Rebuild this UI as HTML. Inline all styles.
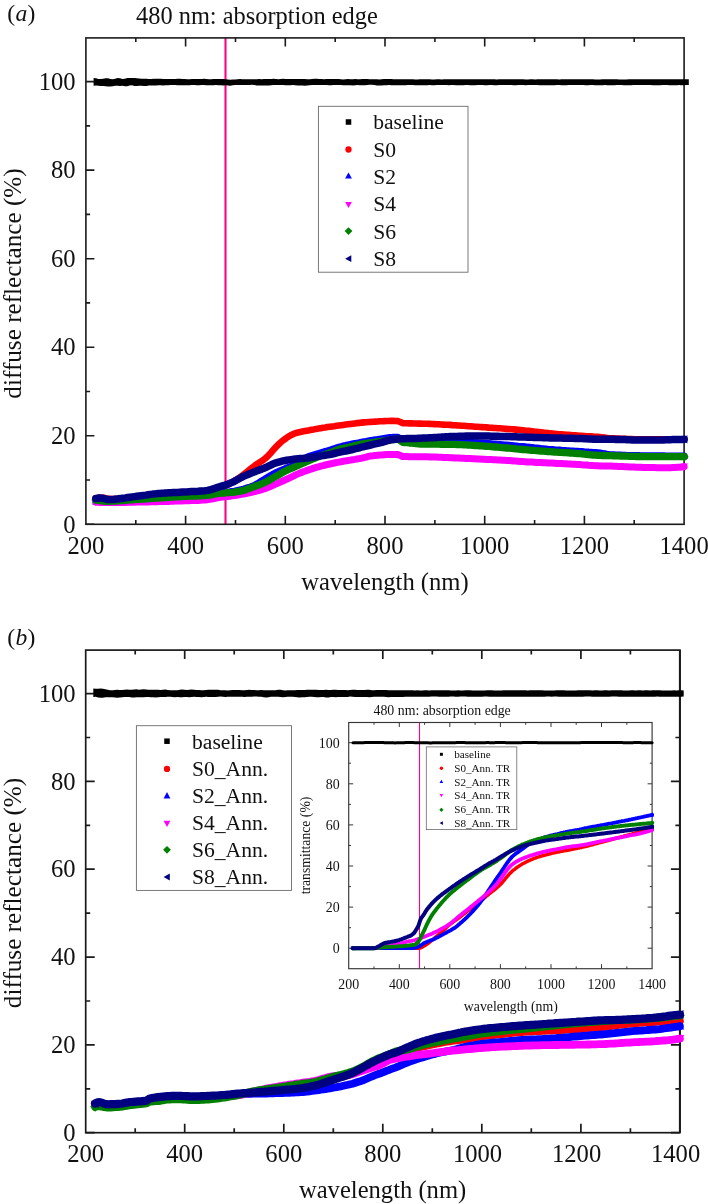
<!DOCTYPE html>
<html lang="en"><head><meta charset="utf-8"><title>Diffuse reflectance and transmittance spectra</title>
<style>html,body{margin:0;padding:0;background:#fff}svg{display:block;will-change:transform}</style></head>
<body>
<svg width="708" height="1204" viewBox="0 0 708 1204" font-family="'Liberation Serif', serif" fill="#111">
<rect width="708" height="1204" fill="#fff"/>
<text x="7.2" y="20.8" font-size="23.6" letter-spacing="0.35">(<tspan font-style="italic">a</tspan>)</text>
<text x="136" y="23.5" font-size="24.4" text-anchor="start" >480 nm: absorption edge</text>
<line x1="225.5" x2="225.5" y1="37.9" y2="524.3" stroke="#ff0080" stroke-width="2.1"/>
<rect x="85.9" y="37.9" width="598.2" height="486.4" fill="none" stroke="#1a1a1a" stroke-width="1.6"/>
<path d="M135.8,524.3v-4.2M135.8,37.9v4.2M185.6,524.3v-8.5M185.6,37.9v8.5M235.5,524.3v-4.2M235.5,37.9v4.2M285.3,524.3v-8.5M285.3,37.9v8.5M335.2,524.3v-4.2M335.2,37.9v4.2M385.0,524.3v-8.5M385.0,37.9v8.5M434.9,524.3v-4.2M434.9,37.9v4.2M484.7,524.3v-8.5M484.7,37.9v8.5M534.6,524.3v-4.2M534.6,37.9v4.2M584.4,524.3v-8.5M584.4,37.9v8.5M634.2,524.3v-4.2M634.2,37.9v4.2M85.9,524.3h8.5M85.9,480.0h4.2M85.9,435.8h8.5M85.9,391.5h4.2M85.9,347.2h8.5M85.9,302.9h4.2M85.9,258.7h8.5M85.9,214.4h4.2M85.9,170.1h8.5M85.9,125.9h4.2M85.9,81.6h8.5" stroke="#1a1a1a" stroke-width="1.6" fill="none"/>
<path d="M93.6,77.98 L96.0,78.36 L98.4,78.89 L100.8,79.07 L103.2,78.73 L105.6,78.30 L108.0,78.37 L110.4,78.99 L112.8,79.32 L115.2,78.76 L117.6,78.07 L120.0,78.34 L122.4,79.01 L124.8,78.65 L127.2,78.04 L129.6,78.09 L132.0,78.09 L134.4,78.11 L136.8,78.25 L139.2,78.46 L141.6,78.78 L144.0,78.74 L146.4,78.67 L148.8,79.03 L151.2,78.93 L153.6,78.72 L156.0,78.73 L158.4,78.83 L160.8,78.86 L163.2,78.89 L165.6,79.05 L168.0,79.12 L170.4,79.01 L172.8,78.93 L175.2,78.92 L177.6,78.84 L180.0,78.86 L182.4,78.99 L184.8,79.08 L187.2,79.31 L189.6,79.20 L192.0,78.91 L194.4,78.95 L196.8,79.00 L199.2,79.07 L201.6,79.00 L204.0,78.82 L206.4,78.93 L208.8,79.17 L211.2,79.19 L213.6,79.10 L216.0,79.09 L218.4,79.01 L220.8,78.94 L223.2,79.10 L225.6,79.36 L228.0,79.55 L230.4,79.64 L232.8,79.51 L235.2,79.40 L237.6,79.30 L240.0,79.11 L242.4,79.20 L244.8,79.33 L247.2,79.21 L249.6,79.15 L252.0,79.21 L254.4,79.22 L256.8,79.13 L259.2,79.12 L261.6,79.18 L264.0,79.12 L266.4,79.09 L268.8,79.12 L271.2,78.92 L273.6,78.75 L276.0,78.93 L278.4,79.17 L280.8,79.09 L283.2,78.87 L285.6,78.92 L288.0,79.04 L290.4,78.91 L292.8,78.91 L295.2,79.05 L297.6,78.98 L300.0,79.00 L302.4,79.09 L304.8,79.07 L307.2,79.21 L309.6,79.32 L312.0,79.07 L314.4,78.76 L316.8,78.74 L319.2,78.94 L321.6,79.10 L324.0,79.13 L326.4,79.06 L328.8,78.98 L331.2,78.95 L333.6,79.02 L336.0,79.10 L338.4,79.11 L340.8,79.29 L343.2,79.50 L345.6,79.25 L348.0,79.07 L350.4,79.33 L352.8,79.27 L355.2,79.10 L357.6,79.22 L360.0,79.18 L362.4,79.00 L364.8,78.92 L367.2,78.94 L369.6,79.16 L372.0,79.30 L374.4,79.22 L376.8,79.34 L379.2,79.39 L381.6,79.13 L384.0,79.07 L386.4,79.05 L388.8,78.90 L391.2,78.93 L393.6,79.15 L396.0,79.23 L398.4,79.17 L400.8,79.24 L403.2,79.29 L405.6,79.31 L408.0,79.33 L410.4,79.33 L412.8,79.37 L415.2,79.41 L417.6,79.38 L420.0,79.34 L422.4,79.32 L424.8,79.26 L427.2,79.28 L429.6,79.35 L432.0,79.39 L434.4,79.39 L436.8,79.30 L439.2,79.28 L441.6,79.38 L444.0,79.37 L446.4,79.31 L448.8,79.34 L451.2,79.29 L453.6,79.20 L456.0,79.22 L458.4,79.30 L460.8,79.35 L463.2,79.29 L465.6,79.26 L468.0,79.27 L470.4,79.25 L472.8,79.25 L475.2,79.31 L477.6,79.37 L480.0,79.33 L482.4,79.24 L484.8,79.23 L487.2,79.26 L489.6,79.25 L492.0,79.21 L494.4,79.25 L496.8,79.38 L499.2,79.37 L501.6,79.30 L504.0,79.35 L506.4,79.33 L508.8,79.20 L511.2,79.21 L513.6,79.28 L516.0,79.32 L518.4,79.30 L520.8,79.28 L523.2,79.34 L525.6,79.44 L528.0,79.44 L530.4,79.30 L532.8,79.31 L535.2,79.38 L537.6,79.30 L540.0,79.25 L542.4,79.30 L544.8,79.35 L547.2,79.37 L549.6,79.32 L552.0,79.28 L554.4,79.31 L556.8,79.37 L559.2,79.40 L561.6,79.31 L564.0,79.21 L566.4,79.25 L568.8,79.33 L571.2,79.26 L573.6,79.17 L576.0,79.22 L578.4,79.31 L580.8,79.33 L583.2,79.30 L585.6,79.33 L588.0,79.34 L590.4,79.28 L592.8,79.32 L595.2,79.42 L597.6,79.45 L600.0,79.39 L602.4,79.36 L604.8,79.36 L607.2,79.32 L609.6,79.27 L612.0,79.26 L614.4,79.28 L616.8,79.36 L619.2,79.43 L621.6,79.39 L624.0,79.39 L626.4,79.39 L628.8,79.35 L631.2,79.30 L633.6,79.23 L636.0,79.27 L638.4,79.29 L640.8,79.18 L643.2,79.21 L645.6,79.32 L648.0,79.29 L650.4,79.23 L652.8,79.24 L655.2,79.28 L657.6,79.33 L660.0,79.33 L662.4,79.28 L664.8,79.26 L667.2,79.31 L669.6,79.37 L672.0,79.36 L674.4,79.34 L676.8,79.28 L679.2,79.22 L681.6,79.25 L684.0,79.32 L686.4,79.30 L688.8,79.22 L688.8,85.03 L686.4,85.04 L684.0,85.13 L681.6,85.13 L679.2,85.10 L676.8,85.14 L674.4,85.20 L672.0,85.24 L669.6,85.21 L667.2,85.11 L664.8,85.00 L662.4,85.02 L660.0,85.14 L657.6,85.16 L655.2,85.15 L652.8,85.13 L650.4,85.11 L648.0,85.11 L645.6,85.08 L643.2,85.07 L640.8,85.08 L638.4,85.07 L636.0,85.08 L633.6,85.10 L631.2,85.13 L628.8,85.16 L626.4,85.19 L624.0,85.17 L621.6,85.06 L619.2,85.01 L616.8,85.09 L614.4,85.15 L612.0,85.19 L609.6,85.21 L607.2,85.16 L604.8,85.12 L602.4,85.16 L600.0,85.18 L597.6,85.15 L595.2,85.13 L592.8,85.07 L590.4,85.08 L588.0,85.16 L585.6,85.13 L583.2,85.06 L580.8,85.07 L578.4,85.08 L576.0,85.06 L573.6,85.06 L571.2,85.07 L568.8,85.11 L566.4,85.14 L564.0,85.16 L561.6,85.15 L559.2,85.06 L556.8,85.06 L554.4,85.15 L552.0,85.22 L549.6,85.22 L547.2,85.17 L544.8,85.16 L542.4,85.16 L540.0,85.13 L537.6,85.11 L535.2,85.10 L532.8,85.12 L530.4,85.09 L528.0,85.06 L525.6,85.13 L523.2,85.10 L520.8,85.05 L518.4,85.10 L516.0,85.16 L513.6,85.13 L511.2,85.05 L508.8,85.06 L506.4,85.07 L504.0,85.04 L501.6,85.04 L499.2,85.12 L496.8,85.18 L494.4,85.17 L492.0,85.10 L489.6,85.11 L487.2,85.19 L484.8,85.18 L482.4,85.11 L480.0,85.08 L477.6,85.12 L475.2,85.17 L472.8,85.18 L470.4,85.15 L468.0,85.10 L465.6,85.09 L463.2,85.13 L460.8,85.16 L458.4,85.20 L456.0,85.17 L453.6,85.06 L451.2,85.08 L448.8,85.14 L446.4,85.09 L444.0,85.07 L441.6,85.07 L439.2,85.06 L436.8,85.10 L434.4,85.17 L432.0,85.13 L429.6,85.08 L427.2,85.13 L424.8,85.17 L422.4,85.19 L420.0,85.17 L417.6,85.15 L415.2,85.16 L412.8,85.11 L410.4,85.06 L408.0,85.08 L405.6,85.13 L403.2,85.20 L400.8,85.21 L398.4,85.27 L396.0,85.24 L393.6,85.22 L391.2,85.19 L388.8,85.07 L386.4,85.14 L384.0,85.34 L381.6,85.49 L379.2,85.56 L376.8,85.44 L374.4,85.11 L372.0,84.65 L369.6,84.63 L367.2,85.03 L364.8,85.25 L362.4,85.25 L360.0,85.13 L357.6,85.12 L355.2,85.30 L352.8,85.39 L350.4,85.32 L348.0,85.21 L345.6,85.17 L343.2,85.15 L340.8,85.11 L338.4,85.06 L336.0,85.00 L333.6,85.06 L331.2,85.20 L328.8,85.15 L326.4,84.90 L324.0,84.88 L321.6,84.95 L319.2,84.93 L316.8,85.04 L314.4,85.07 L312.0,85.07 L309.6,85.36 L307.2,85.61 L304.8,85.63 L302.4,85.54 L300.0,85.50 L297.6,85.54 L295.2,85.27 L292.8,85.09 L290.4,85.26 L288.0,85.26 L285.6,85.16 L283.2,85.08 L280.8,85.02 L278.4,85.07 L276.0,85.08 L273.6,85.05 L271.2,85.21 L268.8,85.48 L266.4,85.61 L264.0,85.51 L261.6,85.45 L259.2,85.62 L256.8,85.55 L254.4,84.99 L252.0,84.77 L249.6,85.02 L247.2,85.02 L244.8,84.98 L242.4,84.98 L240.0,84.89 L237.6,84.88 L235.2,84.97 L232.8,85.29 L230.4,85.64 L228.0,85.55 L225.6,85.37 L223.2,85.41 L220.8,85.34 L218.4,85.13 L216.0,85.08 L213.6,85.28 L211.2,85.35 L208.8,85.26 L206.4,85.21 L204.0,85.05 L201.6,85.09 L199.2,85.33 L196.8,85.27 L194.4,85.05 L192.0,84.98 L189.6,85.13 L187.2,85.25 L184.8,85.17 L182.4,85.16 L180.0,85.18 L177.6,85.22 L175.2,85.12 L172.8,84.92 L170.4,85.08 L168.0,85.27 L165.6,85.35 L163.2,85.40 L160.8,85.23 L158.4,85.23 L156.0,85.38 L153.6,85.44 L151.2,85.45 L148.8,85.57 L146.4,86.11 L144.0,86.11 L141.6,85.64 L139.2,85.73 L136.8,86.08 L134.4,85.91 L132.0,85.27 L129.6,85.43 L127.2,86.15 L124.8,86.13 L122.4,85.87 L120.0,85.90 L117.6,85.81 L115.2,85.81 L112.8,86.24 L110.4,86.54 L108.0,86.50 L105.6,86.33 L103.2,86.11 L100.8,85.89 L98.4,85.68 L96.0,85.57 L93.6,85.65Z" fill="#000"/>
<path d="M95.9,498.2 L98.1,497.9 L100.4,497.8 L102.7,497.8 L105.0,498.1 L107.2,498.6 L109.5,499.0 L111.8,499.1 L114.0,499.0 L116.3,499.0 L118.6,498.9 L120.9,498.8 L123.1,498.6 L125.4,498.5 L127.7,498.3 L129.9,498.1 L132.2,498.0 L134.5,497.8 L136.8,497.7 L139.0,497.5 L141.3,497.4 L143.6,497.2 L145.8,497.0 L148.1,496.8 L150.4,496.6 L152.6,496.4 L154.9,496.3 L157.2,496.0 L159.5,495.8 L161.7,495.6 L164.0,495.4 L166.3,495.2 L168.5,495.0 L170.8,494.8 L173.1,494.5 L175.4,494.3 L177.6,494.1 L179.9,493.9 L182.2,493.6 L184.4,493.4 L186.7,493.2 L189.0,493.0 L191.3,492.8 L193.5,492.6 L195.8,492.4 L198.1,492.2 L200.3,492.0 L202.6,491.7 L204.9,491.5 L207.2,491.2 L209.4,490.8 L211.7,490.4 L214.0,489.9 L216.2,489.2 L218.5,488.5 L220.8,487.7 L223.1,486.8 L225.3,485.8 L227.6,484.7 L229.9,483.5 L232.1,482.3 L234.4,480.9 L236.7,479.5 L239.0,477.9 L241.2,476.3 L243.5,474.6 L245.8,472.8 L248.0,471.0 L250.3,469.1 L252.6,467.3 L254.9,465.6 L257.1,464.1 L259.4,462.6 L261.7,461.1 L263.9,459.5 L266.2,457.6 L268.5,455.3 L270.7,452.9 L273.0,450.3 L275.3,447.7 L277.6,445.4 L279.8,443.2 L282.1,441.2 L284.4,439.5 L286.6,437.8 L288.9,436.4 L291.2,435.0 L293.5,433.9 L295.7,433.2 L298.0,432.5 L300.3,432.0 L302.5,431.5 L304.8,431.1 L307.1,430.7 L309.4,430.3 L311.6,429.8 L313.9,429.4 L316.2,428.9 L318.4,428.6 L320.7,428.2 L323.0,427.8 L325.3,427.5 L327.5,427.1 L329.8,426.8 L332.1,426.5 L334.3,426.2 L336.6,425.8 L338.9,425.5 L341.2,425.2 L343.4,424.9 L345.7,424.6 L348.0,424.3 L350.2,424.0 L352.5,423.7 L354.8,423.4 L357.1,423.1 L359.3,422.9 L361.6,422.6 L363.9,422.4 L366.1,422.2 L368.4,422.0 L370.7,421.9 L373.0,421.7 L375.2,421.6 L377.5,421.5 L379.8,421.3 L382.0,421.2 L384.3,421.1 L386.6,421.0 L388.8,421.0 L391.1,420.9 L393.4,420.9 L395.7,421.0 L397.9,421.1 L400.2,422.0 L402.5,423.1 L404.7,423.2 L407.0,423.3 L409.3,423.4 L411.6,423.4 L413.8,423.5 L416.1,423.5 L418.4,423.6 L420.6,423.6 L422.9,423.7 L425.2,423.8 L427.5,423.8 L429.7,423.9 L432.0,424.0 L434.3,424.1 L436.5,424.2 L438.8,424.3 L441.1,424.5 L443.4,424.6 L445.6,424.7 L447.9,424.8 L450.2,424.9 L452.4,425.1 L454.7,425.2 L457.0,425.4 L459.3,425.5 L461.5,425.7 L463.8,425.8 L466.1,426.0 L468.3,426.2 L470.6,426.3 L472.9,426.5 L475.2,426.7 L477.4,426.8 L479.7,427.0 L482.0,427.1 L484.2,427.3 L486.5,427.4 L488.8,427.6 L491.1,427.7 L493.3,427.9 L495.6,428.0 L497.9,428.2 L500.1,428.3 L502.4,428.5 L504.7,428.7 L506.9,428.9 L509.2,429.0 L511.5,429.2 L513.8,429.4 L516.0,429.6 L518.3,429.8 L520.6,430.0 L522.8,430.2 L525.1,430.5 L527.4,430.7 L529.7,430.9 L531.9,431.2 L534.2,431.5 L536.5,431.7 L538.7,432.0 L541.0,432.3 L543.3,432.6 L545.6,432.9 L547.8,433.1 L550.1,433.4 L552.4,433.6 L554.6,433.8 L556.9,434.0 L559.2,434.2 L561.5,434.4 L563.7,434.6 L566.0,434.8 L568.3,434.9 L570.5,435.1 L572.8,435.3 L575.1,435.4 L577.4,435.6 L579.6,435.8 L581.9,435.9 L584.2,436.0 L586.4,436.2 L588.7,436.3 L591.0,436.4 L593.3,436.6 L595.5,436.7 L597.8,436.9 L600.1,437.1 L602.3,437.4 L604.6,437.6 L606.9,437.9 L609.2,438.2 L611.4,438.3 L613.7,438.4 L616.0,438.5 L618.2,438.6 L620.5,438.7 L622.8,438.8 L625.0,438.9 L627.3,439.0 L629.6,439.1 L631.9,439.1 L634.1,439.2 L636.4,439.2 L638.7,439.3 L640.9,439.3 L643.2,439.3 L645.5,439.3 L647.8,439.3 L650.0,439.3 L652.3,439.3 L654.6,439.3 L656.8,439.3 L659.1,439.3 L661.4,439.3 L663.7,439.3 L665.9,439.3 L668.2,439.3 L670.5,439.3 L672.7,439.3 L675.0,439.3 L677.3,439.3 L679.6,439.3 L681.8,439.3 L684.1,439.3" fill="none" stroke="#ff0000" stroke-width="6.6" stroke-linecap="round" stroke-linejoin="round"/><circle cx="95.9" cy="498.2" r="3.29" fill="#ff0000"/><circle cx="684.1" cy="439.3" r="3.29" fill="#ff0000"/>
<path d="M95.9,501.3 L98.1,501.5 L100.4,501.8 L102.7,502.0 L105.0,502.1 L107.2,502.2 L109.5,502.1 L111.8,502.1 L114.0,501.9 L116.3,501.8 L118.6,501.6 L120.9,501.4 L123.1,501.2 L125.4,500.9 L127.7,500.7 L129.9,500.5 L132.2,500.3 L134.5,500.1 L136.8,499.9 L139.0,499.7 L141.3,499.5 L143.6,499.4 L145.8,499.2 L148.1,499.0 L150.4,498.9 L152.6,498.7 L154.9,498.5 L157.2,498.3 L159.5,498.2 L161.7,498.0 L164.0,497.9 L166.3,497.7 L168.5,497.5 L170.8,497.4 L173.1,497.2 L175.4,497.0 L177.6,496.9 L179.9,496.7 L182.2,496.6 L184.4,496.4 L186.7,496.3 L189.0,496.1 L191.3,496.0 L193.5,495.9 L195.8,495.8 L198.1,495.6 L200.3,495.5 L202.6,495.3 L204.9,495.1 L207.2,494.9 L209.4,494.6 L211.7,494.2 L214.0,493.8 L216.2,493.4 L218.5,493.1 L220.8,492.8 L223.1,492.5 L225.3,492.3 L227.6,492.0 L229.9,491.8 L232.1,491.4 L234.4,491.1 L236.7,490.6 L239.0,490.1 L241.2,489.6 L243.5,489.1 L245.8,488.4 L248.0,487.7 L250.3,487.0 L252.6,486.1 L254.9,485.1 L257.1,483.9 L259.4,482.5 L261.7,481.0 L263.9,479.6 L266.2,478.2 L268.5,476.9 L270.7,475.5 L273.0,474.2 L275.3,473.0 L277.6,471.9 L279.8,470.9 L282.1,469.9 L284.4,469.0 L286.6,468.1 L288.9,467.2 L291.2,466.4 L293.5,465.6 L295.7,464.8 L298.0,463.9 L300.3,462.8 L302.5,460.9 L304.8,458.7 L307.1,457.3 L309.4,456.3 L311.6,455.5 L313.9,454.8 L316.2,454.2 L318.4,453.5 L320.7,452.8 L323.0,452.1 L325.3,451.5 L327.5,450.9 L329.8,450.2 L332.1,449.4 L334.3,448.7 L336.6,447.9 L338.9,447.2 L341.2,446.6 L343.4,446.0 L345.7,445.5 L348.0,444.9 L350.2,444.5 L352.5,444.0 L354.8,443.5 L357.1,443.1 L359.3,442.7 L361.6,442.2 L363.9,441.8 L366.1,441.4 L368.4,440.9 L370.7,440.5 L373.0,440.1 L375.2,439.8 L377.5,439.5 L379.8,439.1 L382.0,438.8 L384.3,438.4 L386.6,438.0 L388.8,437.6 L391.1,437.4 L393.4,437.3 L395.7,437.3 L397.9,437.3 L400.2,438.7 L402.5,440.4 L404.7,440.6 L407.0,440.8 L409.3,441.0 L411.6,441.1 L413.8,441.2 L416.1,441.3 L418.4,441.3 L420.6,441.4 L422.9,441.4 L425.2,441.5 L427.5,441.5 L429.7,441.6 L432.0,441.6 L434.3,441.7 L436.5,441.7 L438.8,441.8 L441.1,441.8 L443.4,441.8 L445.6,441.9 L447.9,441.9 L450.2,442.0 L452.4,442.0 L454.7,442.1 L457.0,442.1 L459.3,442.2 L461.5,442.2 L463.8,442.3 L466.1,442.4 L468.3,442.4 L470.6,442.5 L472.9,442.6 L475.2,442.7 L477.4,442.8 L479.7,442.9 L482.0,443.0 L484.2,443.2 L486.5,443.3 L488.8,443.5 L491.1,443.7 L493.3,443.9 L495.6,444.1 L497.9,444.3 L500.1,444.5 L502.4,444.7 L504.7,444.9 L506.9,445.1 L509.2,445.3 L511.5,445.5 L513.8,445.7 L516.0,445.9 L518.3,446.2 L520.6,446.4 L522.8,446.6 L525.1,446.8 L527.4,447.1 L529.7,447.3 L531.9,447.5 L534.2,447.8 L536.5,448.0 L538.7,448.2 L541.0,448.5 L543.3,448.7 L545.6,448.9 L547.8,449.2 L550.1,449.4 L552.4,449.6 L554.6,449.8 L556.9,449.9 L559.2,450.1 L561.5,450.3 L563.7,450.4 L566.0,450.6 L568.3,450.7 L570.5,450.9 L572.8,451.0 L575.1,451.2 L577.4,451.3 L579.6,451.5 L581.9,451.6 L584.2,451.8 L586.4,451.9 L588.7,452.1 L591.0,452.2 L593.3,452.4 L595.5,452.6 L597.8,452.8 L600.1,453.0 L602.3,453.4 L604.6,453.8 L606.9,454.2 L609.2,454.5 L611.4,454.7 L613.7,454.8 L616.0,454.9 L618.2,455.0 L620.5,455.1 L622.8,455.2 L625.0,455.3 L627.3,455.4 L629.6,455.4 L631.9,455.5 L634.1,455.5 L636.4,455.6 L638.7,455.6 L640.9,455.7 L643.2,455.7 L645.5,455.7 L647.8,455.7 L650.0,455.7 L652.3,455.8 L654.6,455.8 L656.8,455.8 L659.1,455.8 L661.4,455.8 L663.7,455.8 L665.9,455.9 L668.2,455.9 L670.5,455.9 L672.7,455.9 L675.0,455.9 L677.3,455.9 L679.6,455.9 L681.8,455.9 L684.1,455.9" fill="none" stroke="#0000ff" stroke-width="7.0" stroke-linecap="round" stroke-linejoin="round"/><path d="M95.9,497.5L99.7,504.4L92.1,504.4Z" fill="#0000ff"/><path d="M684.1,452.1L687.9,459.0L680.3,459.0Z" fill="#0000ff"/>
<path d="M95.9,502.2 L98.1,502.3 L100.4,502.4 L102.7,502.5 L105.0,502.6 L107.2,502.6 L109.5,502.6 L111.8,502.6 L114.0,502.6 L116.3,502.5 L118.6,502.5 L120.9,502.5 L123.1,502.4 L125.4,502.4 L127.7,502.3 L129.9,502.3 L132.2,502.2 L134.5,502.2 L136.8,502.1 L139.0,502.1 L141.3,502.1 L143.6,502.0 L145.8,502.0 L148.1,501.9 L150.4,501.8 L152.6,501.8 L154.9,501.7 L157.2,501.7 L159.5,501.6 L161.7,501.5 L164.0,501.5 L166.3,501.4 L168.5,501.4 L170.8,501.3 L173.1,501.2 L175.4,501.1 L177.6,501.1 L179.9,501.0 L182.2,500.9 L184.4,500.8 L186.7,500.8 L189.0,500.7 L191.3,500.6 L193.5,500.5 L195.8,500.5 L198.1,500.4 L200.3,500.3 L202.6,500.1 L204.9,500.0 L207.2,499.8 L209.4,499.4 L211.7,499.0 L214.0,498.5 L216.2,498.0 L218.5,497.5 L220.8,497.2 L223.1,496.9 L225.3,496.7 L227.6,496.4 L229.9,496.2 L232.1,495.9 L234.4,495.5 L236.7,495.2 L239.0,494.8 L241.2,494.4 L243.5,494.0 L245.8,493.6 L248.0,493.1 L250.3,492.6 L252.6,492.1 L254.9,491.5 L257.1,490.9 L259.4,490.3 L261.7,489.6 L263.9,488.9 L266.2,488.1 L268.5,487.3 L270.7,486.3 L273.0,485.3 L275.3,484.2 L277.6,483.3 L279.8,482.3 L282.1,481.3 L284.4,480.3 L286.6,479.2 L288.9,478.2 L291.2,477.1 L293.5,476.0 L295.7,474.9 L298.0,473.9 L300.3,472.9 L302.5,472.1 L304.8,471.2 L307.1,470.4 L309.4,469.6 L311.6,468.9 L313.9,468.1 L316.2,467.4 L318.4,466.8 L320.7,466.1 L323.0,465.6 L325.3,465.0 L327.5,464.5 L329.8,464.0 L332.1,463.5 L334.3,463.0 L336.6,462.5 L338.9,462.1 L341.2,461.7 L343.4,461.3 L345.7,460.9 L348.0,460.5 L350.2,460.1 L352.5,459.7 L354.8,459.4 L357.1,459.0 L359.3,458.6 L361.6,458.2 L363.9,457.7 L366.1,457.1 L368.4,456.4 L370.7,456.0 L373.0,455.8 L375.2,455.5 L377.5,455.3 L379.8,455.1 L382.0,455.0 L384.3,454.8 L386.6,454.6 L388.8,454.5 L391.1,454.4 L393.4,454.4 L395.7,454.4 L397.9,454.5 L400.2,455.4 L402.5,456.5 L404.7,456.6 L407.0,456.6 L409.3,456.7 L411.6,456.7 L413.8,456.7 L416.1,456.7 L418.4,456.7 L420.6,456.7 L422.9,456.7 L425.2,456.8 L427.5,456.8 L429.7,456.9 L432.0,456.9 L434.3,457.0 L436.5,457.1 L438.8,457.2 L441.1,457.3 L443.4,457.4 L445.6,457.5 L447.9,457.6 L450.2,457.7 L452.4,457.8 L454.7,457.9 L457.0,458.0 L459.3,458.1 L461.5,458.2 L463.8,458.3 L466.1,458.4 L468.3,458.5 L470.6,458.6 L472.9,458.7 L475.2,458.8 L477.4,458.9 L479.7,459.0 L482.0,459.2 L484.2,459.3 L486.5,459.4 L488.8,459.5 L491.1,459.6 L493.3,459.7 L495.6,459.8 L497.9,459.9 L500.1,460.0 L502.4,460.2 L504.7,460.3 L506.9,460.4 L509.2,460.6 L511.5,460.8 L513.8,461.0 L516.0,461.1 L518.3,461.3 L520.6,461.5 L522.8,461.6 L525.1,461.7 L527.4,461.9 L529.7,462.0 L531.9,462.1 L534.2,462.2 L536.5,462.4 L538.7,462.5 L541.0,462.6 L543.3,462.7 L545.6,462.8 L547.8,462.9 L550.1,463.0 L552.4,463.1 L554.6,463.2 L556.9,463.4 L559.2,463.5 L561.5,463.6 L563.7,463.7 L566.0,463.8 L568.3,464.0 L570.5,464.1 L572.8,464.2 L575.1,464.3 L577.4,464.5 L579.6,464.6 L581.9,464.8 L584.2,464.9 L586.4,465.1 L588.7,465.3 L591.0,465.4 L593.3,465.6 L595.5,465.7 L597.8,465.8 L600.1,465.9 L602.3,465.9 L604.6,466.0 L606.9,466.0 L609.2,466.1 L611.4,466.1 L613.7,466.2 L616.0,466.3 L618.2,466.4 L620.5,466.5 L622.8,466.6 L625.0,466.7 L627.3,466.8 L629.6,466.9 L631.9,467.0 L634.1,467.1 L636.4,467.2 L638.7,467.3 L640.9,467.3 L643.2,467.4 L645.5,467.5 L647.8,467.5 L650.0,467.6 L652.3,467.6 L654.6,467.6 L656.8,467.7 L659.1,467.7 L661.4,467.7 L663.7,467.8 L665.9,467.8 L668.2,467.8 L670.5,467.7 L672.7,467.6 L675.0,467.5 L677.3,467.3 L679.6,467.2 L681.8,467.0 L684.1,466.7" fill="none" stroke="#ff00ff" stroke-width="7.0" stroke-linecap="round" stroke-linejoin="round"/><path d="M95.9,506.0L99.7,499.1L92.1,499.1Z" fill="#ff00ff"/><path d="M684.1,470.5L687.9,463.6L680.3,463.6Z" fill="#ff00ff"/>
<path d="M95.9,500.0 L98.1,500.3 L100.4,500.7 L102.7,501.0 L105.0,501.2 L107.2,501.3 L109.5,501.3 L111.8,501.2 L114.0,501.1 L116.3,501.0 L118.6,500.8 L120.9,500.7 L123.1,500.5 L125.4,500.3 L127.7,500.1 L129.9,499.9 L132.2,499.8 L134.5,499.6 L136.8,499.4 L139.0,499.3 L141.3,499.2 L143.6,499.0 L145.8,498.8 L148.1,498.7 L150.4,498.5 L152.6,498.4 L154.9,498.2 L157.2,498.1 L159.5,497.9 L161.7,497.8 L164.0,497.6 L166.3,497.5 L168.5,497.3 L170.8,497.2 L173.1,497.0 L175.4,496.9 L177.6,496.8 L179.9,496.7 L182.2,496.5 L184.4,496.4 L186.7,496.3 L189.0,496.2 L191.3,496.1 L193.5,496.1 L195.8,496.0 L198.1,495.9 L200.3,495.8 L202.6,495.7 L204.9,495.6 L207.2,495.4 L209.4,495.1 L211.7,494.7 L214.0,494.3 L216.2,493.8 L218.5,493.5 L220.8,493.2 L223.1,493.1 L225.3,492.9 L227.6,492.7 L229.9,492.6 L232.1,492.4 L234.4,492.1 L236.7,491.7 L239.0,491.4 L241.2,490.9 L243.5,490.4 L245.8,489.7 L248.0,488.9 L250.3,488.0 L252.6,487.2 L254.9,486.3 L257.1,485.5 L259.4,484.7 L261.7,483.8 L263.9,482.9 L266.2,481.8 L268.5,480.6 L270.7,479.3 L273.0,478.0 L275.3,476.6 L277.6,475.4 L279.8,474.1 L282.1,472.8 L284.4,471.6 L286.6,470.4 L288.9,469.3 L291.2,468.4 L293.5,467.5 L295.7,466.5 L298.0,465.5 L300.3,464.5 L302.5,463.5 L304.8,462.5 L307.1,461.5 L309.4,460.5 L311.6,459.5 L313.9,458.5 L316.2,457.6 L318.4,456.7 L320.7,455.9 L323.0,455.1 L325.3,454.4 L327.5,453.6 L329.8,452.8 L332.1,451.9 L334.3,451.1 L336.6,450.2 L338.9,449.4 L341.2,448.8 L343.4,448.2 L345.7,447.7 L348.0,447.2 L350.2,446.7 L352.5,446.2 L354.8,445.6 L357.1,445.0 L359.3,444.5 L361.6,444.0 L363.9,443.6 L366.1,443.3 L368.4,443.0 L370.7,442.8 L373.0,442.5 L375.2,442.2 L377.5,441.8 L379.8,441.5 L382.0,441.2 L384.3,440.9 L386.6,440.6 L388.8,440.2 L391.1,439.9 L393.4,439.6 L395.7,439.2 L397.9,438.9 L400.2,440.4 L402.5,442.3 L404.7,442.5 L407.0,442.7 L409.3,443.0 L411.6,443.2 L413.8,443.4 L416.1,443.6 L418.4,443.8 L420.6,444.0 L422.9,444.1 L425.2,444.2 L427.5,444.2 L429.7,444.2 L432.0,444.2 L434.3,444.2 L436.5,444.2 L438.8,444.2 L441.1,444.3 L443.4,444.3 L445.6,444.3 L447.9,444.3 L450.2,444.3 L452.4,444.3 L454.7,444.4 L457.0,444.5 L459.3,444.6 L461.5,444.7 L463.8,444.8 L466.1,444.9 L468.3,445.1 L470.6,445.2 L472.9,445.4 L475.2,445.5 L477.4,445.6 L479.7,445.8 L482.0,445.9 L484.2,446.1 L486.5,446.3 L488.8,446.4 L491.1,446.6 L493.3,446.8 L495.6,447.0 L497.9,447.2 L500.1,447.4 L502.4,447.6 L504.7,447.8 L506.9,448.0 L509.2,448.2 L511.5,448.4 L513.8,448.6 L516.0,448.9 L518.3,449.1 L520.6,449.3 L522.8,449.5 L525.1,449.7 L527.4,449.9 L529.7,450.1 L531.9,450.3 L534.2,450.4 L536.5,450.6 L538.7,450.8 L541.0,451.0 L543.3,451.1 L545.6,451.3 L547.8,451.5 L550.1,451.6 L552.4,451.8 L554.6,452.0 L556.9,452.1 L559.2,452.3 L561.5,452.4 L563.7,452.6 L566.0,452.7 L568.3,452.9 L570.5,453.0 L572.8,453.2 L575.1,453.4 L577.4,453.5 L579.6,453.7 L581.9,453.9 L584.2,454.1 L586.4,454.4 L588.7,454.6 L591.0,454.8 L593.3,455.0 L595.5,455.1 L597.8,455.3 L600.1,455.4 L602.3,455.5 L604.6,455.5 L606.9,455.6 L609.2,455.7 L611.4,455.7 L613.7,455.8 L616.0,455.9 L618.2,455.9 L620.5,456.0 L622.8,456.1 L625.0,456.2 L627.3,456.2 L629.6,456.3 L631.9,456.4 L634.1,456.4 L636.4,456.5 L638.7,456.5 L640.9,456.5 L643.2,456.6 L645.5,456.6 L647.8,456.6 L650.0,456.6 L652.3,456.6 L654.6,456.6 L656.8,456.6 L659.1,456.6 L661.4,456.7 L663.7,456.7 L665.9,456.7 L668.2,456.7 L670.5,456.7 L672.7,456.7 L675.0,456.7 L677.3,456.7 L679.6,456.7 L681.8,456.7 L684.1,456.7" fill="none" stroke="#008000" stroke-width="7.3" stroke-linecap="round" stroke-linejoin="round"/><path d="M95.9,495.5L100.4,500.0L95.9,504.5L91.4,500.0Z" fill="#008000"/><path d="M684.1,452.2L688.6,456.7L684.1,461.2L679.6,456.7Z" fill="#008000"/>
<path d="M95.9,498.4 L98.1,498.1 L100.4,498.0 L102.7,498.2 L105.0,498.8 L107.2,499.4 L109.5,499.5 L111.8,499.4 L114.0,499.3 L116.3,499.1 L118.6,498.8 L120.9,498.5 L123.1,498.2 L125.4,497.9 L127.7,497.5 L129.9,497.2 L132.2,496.9 L134.5,496.6 L136.8,496.3 L139.0,496.0 L141.3,495.7 L143.6,495.4 L145.8,495.1 L148.1,494.7 L150.4,494.4 L152.6,494.1 L154.9,493.9 L157.2,493.6 L159.5,493.4 L161.7,493.2 L164.0,493.1 L166.3,492.9 L168.5,492.8 L170.8,492.7 L173.1,492.6 L175.4,492.5 L177.6,492.4 L179.9,492.2 L182.2,492.1 L184.4,492.0 L186.7,491.9 L189.0,491.7 L191.3,491.6 L193.5,491.5 L195.8,491.4 L198.1,491.3 L200.3,491.1 L202.6,490.9 L204.9,490.7 L207.2,490.4 L209.4,490.0 L211.7,489.3 L214.0,488.6 L216.2,487.9 L218.5,487.1 L220.8,486.4 L223.1,485.7 L225.3,485.0 L227.6,484.2 L229.9,483.3 L232.1,482.4 L234.4,481.3 L236.7,480.0 L239.0,478.7 L241.2,477.5 L243.5,476.4 L245.8,475.4 L248.0,474.5 L250.3,473.5 L252.6,472.6 L254.9,471.7 L257.1,470.8 L259.4,469.9 L261.7,469.1 L263.9,468.2 L266.2,467.3 L268.5,466.2 L270.7,465.1 L273.0,464.0 L275.3,463.1 L277.6,462.4 L279.8,461.8 L282.1,461.2 L284.4,460.7 L286.6,460.3 L288.9,459.9 L291.2,459.6 L293.5,459.3 L295.7,459.0 L298.0,458.8 L300.3,458.6 L302.5,458.4 L304.8,458.2 L307.1,458.0 L309.4,457.7 L311.6,457.4 L313.9,457.0 L316.2,456.6 L318.4,456.2 L320.7,455.9 L323.0,455.6 L325.3,455.2 L327.5,454.9 L329.8,454.5 L332.1,454.0 L334.3,453.5 L336.6,452.9 L338.9,452.4 L341.2,451.9 L343.4,451.4 L345.7,451.0 L348.0,450.5 L350.2,450.0 L352.5,449.5 L354.8,448.9 L357.1,448.4 L359.3,447.8 L361.6,447.2 L363.9,446.6 L366.1,446.1 L368.4,445.5 L370.7,445.0 L373.0,444.4 L375.2,443.9 L377.5,443.4 L379.8,442.8 L382.0,442.3 L384.3,441.6 L386.6,440.9 L388.8,440.3 L391.1,439.7 L393.4,439.4 L395.7,439.2 L397.9,439.0 L400.2,438.8 L402.5,438.8 L404.7,438.7 L407.0,438.6 L409.3,438.6 L411.6,438.5 L413.8,438.5 L416.1,438.4 L418.4,438.3 L420.6,438.2 L422.9,438.1 L425.2,438.0 L427.5,437.9 L429.7,437.8 L432.0,437.7 L434.3,437.5 L436.5,437.4 L438.8,437.2 L441.1,437.1 L443.4,436.9 L445.6,436.8 L447.9,436.7 L450.2,436.6 L452.4,436.6 L454.7,436.5 L457.0,436.4 L459.3,436.3 L461.5,436.3 L463.8,436.2 L466.1,436.1 L468.3,436.1 L470.6,436.1 L472.9,436.0 L475.2,436.0 L477.4,436.0 L479.7,436.0 L482.0,436.0 L484.2,436.0 L486.5,436.1 L488.8,436.1 L491.1,436.2 L493.3,436.2 L495.6,436.3 L497.9,436.3 L500.1,436.4 L502.4,436.4 L504.7,436.5 L506.9,436.6 L509.2,436.6 L511.5,436.7 L513.8,436.7 L516.0,436.8 L518.3,436.9 L520.6,437.0 L522.8,437.0 L525.1,437.1 L527.4,437.2 L529.7,437.2 L531.9,437.3 L534.2,437.4 L536.5,437.5 L538.7,437.5 L541.0,437.6 L543.3,437.7 L545.6,437.7 L547.8,437.8 L550.1,437.9 L552.4,437.9 L554.6,438.0 L556.9,438.0 L559.2,438.1 L561.5,438.1 L563.7,438.2 L566.0,438.2 L568.3,438.2 L570.5,438.3 L572.8,438.3 L575.1,438.4 L577.4,438.4 L579.6,438.5 L581.9,438.6 L584.2,438.7 L586.4,438.8 L588.7,439.0 L591.0,439.1 L593.3,439.2 L595.5,439.2 L597.8,439.3 L600.1,439.3 L602.3,439.3 L604.6,439.3 L606.9,439.3 L609.2,439.3 L611.4,439.3 L613.7,439.3 L616.0,439.4 L618.2,439.4 L620.5,439.5 L622.8,439.6 L625.0,439.6 L627.3,439.7 L629.6,439.8 L631.9,439.9 L634.1,439.9 L636.4,440.0 L638.7,440.1 L640.9,440.1 L643.2,440.1 L645.5,440.1 L647.8,440.1 L650.0,440.1 L652.3,440.0 L654.6,440.0 L656.8,440.0 L659.1,439.9 L661.4,439.9 L663.7,439.9 L665.9,439.8 L668.2,439.8 L670.5,439.7 L672.7,439.6 L675.0,439.6 L677.3,439.5 L679.6,439.5 L681.8,439.4 L684.1,439.3" fill="none" stroke="#000080" stroke-width="7.5" stroke-linecap="round" stroke-linejoin="round"/><path d="M91.8,498.4L99.2,494.3L99.2,502.5Z" fill="#000080"/><path d="M680.0,439.3L687.4,435.2L687.4,443.4Z" fill="#000080"/>
<text x="85.9" y="554.2" font-size="24.6" text-anchor="middle" >200</text>
<text x="185.6" y="554.2" font-size="24.6" text-anchor="middle" >400</text>
<text x="285.3" y="554.2" font-size="24.6" text-anchor="middle" >600</text>
<text x="385.0" y="554.2" font-size="24.6" text-anchor="middle" >800</text>
<text x="484.7" y="554.2" font-size="24.6" text-anchor="middle" >1000</text>
<text x="584.4" y="554.2" font-size="24.6" text-anchor="middle" >1200</text>
<text x="684.1" y="554.2" font-size="24.6" text-anchor="middle" >1400</text>
<text x="75.6" y="532.5" font-size="24.6" text-anchor="end" >0</text>
<text x="75.6" y="444.0" font-size="24.6" text-anchor="end" >20</text>
<text x="75.6" y="355.4" font-size="24.6" text-anchor="end" >40</text>
<text x="75.6" y="266.9" font-size="24.6" text-anchor="end" >60</text>
<text x="75.6" y="178.3" font-size="24.6" text-anchor="end" >80</text>
<text x="75.6" y="89.8" font-size="24.6" text-anchor="end" >100</text>
<text x="385" y="590.3" font-size="24.6" text-anchor="middle" >wavelength (nm)</text>
<text transform="translate(21.4,283.5) rotate(-90)" font-size="25.2" text-anchor="middle">diffuse reflectance (%)</text>
<rect x="318.4" y="106.3" width="149.6" height="165.9" fill="#fff" stroke="#6a6a6a" stroke-width="0.9"/>
<rect x="345.74" y="119.24" width="5.52" height="5.52" fill="#000"/>
<text x="373.2" y="129.2" font-size="21.6" text-anchor="start" >baseline</text>
<circle cx="348.5" cy="149.5" r="3.15" fill="#ff0000"/>
<text x="373.2" y="156.6" font-size="21.6" text-anchor="start" >S0</text>
<path d="M348.5,172.4L351.9,178.6L345.1,178.6Z" fill="#0000ff"/>
<text x="373.2" y="183.8" font-size="21.6" text-anchor="start" >S2</text>
<path d="M348.5,208.1L351.9,201.9L345.1,201.9Z" fill="#ff00ff"/>
<text x="373.2" y="211.4" font-size="21.6" text-anchor="start" >S4</text>
<path d="M348.5,227.2L352.4,231.1L348.5,235.0L344.6,231.1Z" fill="#008000"/>
<text x="373.2" y="238.6" font-size="21.6" text-anchor="start" >S6</text>
<path d="M345.1,258.7L351.3,255.2L351.3,262.1Z" fill="#000080"/>
<text x="373.2" y="265.9" font-size="21.6" text-anchor="start" >S8</text>
<text x="7.2" y="644.6" font-size="23.6" letter-spacing="0.35">(<tspan font-style="italic">b</tspan>)</text>
<rect x="85.7" y="650.1" width="594.2" height="482.6" fill="none" stroke="#1a1a1a" stroke-width="1.7"/>
<path d="M135.2,1132.7v-4.5M135.2,650.1v4.5M184.7,1132.7v-9.0M184.7,650.1v9.0M234.2,1132.7v-4.5M234.2,650.1v4.5M283.8,1132.7v-9.0M283.8,650.1v9.0M333.3,1132.7v-4.5M333.3,650.1v4.5M382.8,1132.7v-9.0M382.8,650.1v9.0M432.3,1132.7v-4.5M432.3,650.1v4.5M481.8,1132.7v-9.0M481.8,650.1v9.0M531.3,1132.7v-4.5M531.3,650.1v4.5M580.9,1132.7v-9.0M580.9,650.1v9.0M630.4,1132.7v-4.5M630.4,650.1v4.5M85.7,1132.7h9.0M679.9,1132.7h-9.0M85.7,1088.8h4.5M679.9,1088.8h-4.5M85.7,1044.9h9.0M679.9,1044.9h-9.0M85.7,1001.0h4.5M679.9,1001.0h-4.5M85.7,957.1h9.0M679.9,957.1h-9.0M85.7,913.2h4.5M679.9,913.2h-4.5M85.7,869.2h9.0M679.9,869.2h-9.0M85.7,825.3h4.5M679.9,825.3h-4.5M85.7,781.4h9.0M679.9,781.4h-9.0M85.7,737.5h4.5M679.9,737.5h-4.5M85.7,693.6h9.0M679.9,693.6h-9.0" stroke="#1a1a1a" stroke-width="1.7" fill="none"/>
<line x1="679.9" x2="679.9" y1="650.1" y2="1132.7" stroke="#1a1a1a" stroke-width="2.0"/>
<path d="M93.3,688.46 L95.7,688.71 L98.1,688.71 L100.5,688.57 L102.9,688.84 L105.3,689.28 L107.7,689.82 L110.1,690.26 L112.5,690.31 L114.9,690.02 L117.3,689.77 L119.7,690.07 L122.1,690.08 L124.5,689.65 L126.9,689.59 L129.3,689.85 L131.7,689.86 L134.1,689.40 L136.5,689.34 L138.9,689.70 L141.3,689.48 L143.7,689.17 L146.1,689.51 L148.5,689.71 L150.9,689.70 L153.3,689.78 L155.7,689.71 L158.1,689.72 L160.5,689.96 L162.9,689.75 L165.3,689.52 L167.7,689.92 L170.1,690.20 L172.5,690.17 L174.9,690.36 L177.3,690.33 L179.7,689.77 L182.1,689.38 L184.5,689.67 L186.9,690.03 L189.3,689.83 L191.7,689.54 L194.1,689.63 L196.5,689.88 L198.9,690.07 L201.3,690.24 L203.7,690.17 L206.1,689.91 L208.5,689.79 L210.9,689.79 L213.3,689.81 L215.7,689.70 L218.1,689.87 L220.5,690.27 L222.9,690.25 L225.3,690.34 L227.7,690.57 L230.1,690.35 L232.5,690.05 L234.9,689.93 L237.3,689.97 L239.7,690.10 L242.1,690.19 L244.5,690.25 L246.9,690.06 L249.3,689.87 L251.7,689.95 L254.1,690.09 L256.5,690.21 L258.9,690.21 L261.3,690.05 L263.7,690.17 L266.1,690.35 L268.5,690.18 L270.9,690.21 L273.3,690.37 L275.7,690.18 L278.1,689.76 L280.5,689.79 L282.9,690.28 L285.3,690.40 L287.7,690.22 L290.1,690.19 L292.5,690.32 L294.9,690.26 L297.3,689.98 L299.7,689.88 L302.1,689.94 L304.5,689.93 L306.9,689.78 L309.3,689.65 L311.7,689.78 L314.1,689.87 L316.5,689.80 L318.9,689.96 L321.3,690.10 L323.7,689.95 L326.1,689.81 L328.5,689.92 L330.9,689.98 L333.3,689.79 L335.7,689.78 L338.1,689.91 L340.5,689.98 L342.9,689.90 L345.3,689.98 L347.7,690.28 L350.1,690.09 L352.5,689.70 L354.9,689.73 L357.3,689.99 L359.7,690.00 L362.1,689.88 L364.5,689.89 L366.9,689.75 L369.3,689.81 L371.7,690.23 L374.1,690.37 L376.5,690.11 L378.9,690.05 L381.3,690.10 L383.7,689.97 L386.1,690.03 L388.5,690.24 L390.9,690.33 L393.3,690.25 L395.7,690.20 L398.1,690.18 L400.5,690.20 L402.9,690.24 L405.3,690.23 L407.7,690.23 L410.1,690.28 L412.5,690.36 L414.9,690.38 L417.3,690.37 L419.7,690.40 L422.1,690.41 L424.5,690.34 L426.9,690.32 L429.3,690.38 L431.7,690.33 L434.1,690.23 L436.5,690.26 L438.9,690.30 L441.3,690.27 L443.7,690.24 L446.1,690.26 L448.5,690.33 L450.9,690.38 L453.3,690.40 L455.7,690.42 L458.1,690.36 L460.5,690.38 L462.9,690.41 L465.3,690.35 L467.7,690.32 L470.1,690.31 L472.5,690.38 L474.9,690.46 L477.3,690.40 L479.7,690.38 L482.1,690.43 L484.5,690.38 L486.9,690.33 L489.3,690.33 L491.7,690.32 L494.1,690.41 L496.5,690.47 L498.9,690.43 L501.3,690.38 L503.7,690.37 L506.1,690.31 L508.5,690.22 L510.9,690.27 L513.3,690.31 L515.7,690.27 L518.1,690.32 L520.5,690.35 L522.9,690.35 L525.3,690.37 L527.7,690.39 L530.1,690.36 L532.5,690.31 L534.9,690.32 L537.3,690.34 L539.7,690.33 L542.1,690.35 L544.5,690.41 L546.9,690.47 L549.3,690.50 L551.7,690.51 L554.1,690.46 L556.5,690.35 L558.9,690.30 L561.3,690.33 L563.7,690.36 L566.1,690.38 L568.5,690.43 L570.9,690.44 L573.3,690.39 L575.7,690.38 L578.1,690.32 L580.5,690.25 L582.9,690.25 L585.3,690.26 L587.7,690.26 L590.1,690.36 L592.5,690.41 L594.9,690.32 L597.3,690.34 L599.7,690.42 L602.1,690.41 L604.5,690.36 L606.9,690.37 L609.3,690.40 L611.7,690.36 L614.1,690.25 L616.5,690.14 L618.9,690.18 L621.3,690.31 L623.7,690.39 L626.1,690.43 L628.5,690.38 L630.9,690.31 L633.3,690.36 L635.7,690.39 L638.1,690.32 L640.5,690.35 L642.9,690.38 L645.3,690.28 L647.7,690.28 L650.1,690.38 L652.5,690.36 L654.9,690.27 L657.3,690.26 L659.7,690.37 L662.1,690.44 L664.5,690.43 L666.9,690.43 L669.3,690.44 L671.7,690.38 L674.1,690.37 L676.5,690.40 L678.9,690.34 L681.3,690.31 L683.7,690.38 L683.7,696.62 L681.3,696.65 L678.9,696.67 L676.5,696.67 L674.1,696.64 L671.7,696.63 L669.3,696.65 L666.9,696.69 L664.5,696.70 L662.1,696.68 L659.7,696.63 L657.3,696.60 L654.9,696.63 L652.5,696.67 L650.1,696.69 L647.7,696.71 L645.3,696.71 L642.9,696.68 L640.5,696.69 L638.1,696.69 L635.7,696.70 L633.3,696.70 L630.9,696.66 L628.5,696.64 L626.1,696.67 L623.7,696.69 L621.3,696.73 L618.9,696.71 L616.5,696.61 L614.1,696.58 L611.7,696.61 L609.3,696.67 L606.9,696.72 L604.5,696.68 L602.1,696.63 L599.7,696.64 L597.3,696.73 L594.9,696.77 L592.5,696.68 L590.1,696.62 L587.7,696.61 L585.3,696.60 L582.9,696.63 L580.5,696.68 L578.1,696.71 L575.7,696.66 L573.3,696.67 L570.9,696.69 L568.5,696.63 L566.1,696.66 L563.7,696.75 L561.3,696.73 L558.9,696.65 L556.5,696.62 L554.1,696.62 L551.7,696.63 L549.3,696.60 L546.9,696.59 L544.5,696.65 L542.1,696.70 L539.7,696.74 L537.3,696.76 L534.9,696.71 L532.5,696.65 L530.1,696.67 L527.7,696.71 L525.3,696.70 L522.9,696.66 L520.5,696.65 L518.1,696.70 L515.7,696.70 L513.3,696.66 L510.9,696.64 L508.5,696.64 L506.1,696.68 L503.7,696.67 L501.3,696.67 L498.9,696.66 L496.5,696.66 L494.1,696.70 L491.7,696.74 L489.3,696.69 L486.9,696.54 L484.5,696.50 L482.1,696.64 L479.7,696.76 L477.3,696.77 L474.9,696.72 L472.5,696.70 L470.1,696.70 L467.7,696.68 L465.3,696.61 L462.9,696.54 L460.5,696.59 L458.1,696.66 L455.7,696.64 L453.3,696.58 L450.9,696.62 L448.5,696.67 L446.1,696.68 L443.7,696.70 L441.3,696.70 L438.9,696.63 L436.5,696.58 L434.1,696.58 L431.7,696.59 L429.3,696.63 L426.9,696.64 L424.5,696.68 L422.1,696.73 L419.7,696.67 L417.3,696.64 L414.9,696.72 L412.5,696.79 L410.1,696.76 L407.7,696.70 L405.3,696.79 L402.9,696.90 L400.5,696.91 L398.1,696.88 L395.7,696.91 L393.3,696.94 L390.9,697.10 L388.5,697.13 L386.1,696.95 L383.7,696.73 L381.3,696.76 L378.9,696.78 L376.5,696.70 L374.1,696.85 L371.7,697.12 L369.3,697.15 L366.9,696.99 L364.5,697.01 L362.1,697.12 L359.7,696.98 L357.3,696.93 L354.9,697.03 L352.5,696.73 L350.1,696.59 L347.7,696.90 L345.3,697.06 L342.9,697.08 L340.5,697.04 L338.1,697.07 L335.7,697.14 L333.3,697.07 L330.9,697.10 L328.5,697.39 L326.1,697.38 L323.7,697.06 L321.3,697.10 L318.9,697.28 L316.5,697.16 L314.1,696.92 L311.7,696.73 L309.3,696.68 L306.9,696.90 L304.5,697.18 L302.1,697.32 L299.7,697.40 L297.3,697.35 L294.9,697.02 L292.5,696.82 L290.1,696.82 L287.7,696.77 L285.3,696.97 L282.9,697.20 L280.5,697.04 L278.1,696.86 L275.7,696.76 L273.3,696.74 L270.9,696.86 L268.5,697.17 L266.1,697.41 L263.7,697.13 L261.3,696.82 L258.9,696.65 L256.5,696.53 L254.1,696.61 L251.7,696.66 L249.3,696.66 L246.9,696.77 L244.5,696.92 L242.1,696.83 L239.7,696.71 L237.3,696.69 L234.9,696.63 L232.5,696.67 L230.1,696.68 L227.7,696.73 L225.3,696.95 L222.9,696.86 L220.5,696.57 L218.1,696.67 L215.7,696.97 L213.3,696.97 L210.9,696.96 L208.5,696.89 L206.1,696.75 L203.7,697.05 L201.3,697.22 L198.9,697.09 L196.5,697.00 L194.1,696.83 L191.7,696.95 L189.3,697.22 L186.9,697.09 L184.5,697.07 L182.1,697.32 L179.7,697.22 L177.3,697.11 L174.9,697.24 L172.5,697.04 L170.1,696.68 L167.7,696.77 L165.3,697.11 L162.9,697.10 L160.5,697.08 L158.1,697.29 L155.7,697.38 L153.3,697.37 L150.9,697.23 L148.5,696.98 L146.1,697.11 L143.7,697.19 L141.3,697.23 L138.9,697.31 L136.5,697.33 L134.1,697.54 L131.7,697.45 L129.3,697.11 L126.9,697.01 L124.5,697.12 L122.1,697.33 L119.7,697.61 L117.3,697.87 L114.9,697.62 L112.5,697.15 L110.1,697.14 L107.7,697.26 L105.3,697.33 L102.9,697.65 L100.5,697.84 L98.1,697.38 L95.7,696.87 L93.3,696.94Z" fill="#000"/>
<path d="M95.1,1104.6 L97.4,1103.5 L99.6,1103.4 L101.9,1104.0 L104.1,1104.8 L106.4,1105.4 L108.7,1105.5 L110.9,1105.4 L113.2,1105.3 L115.4,1105.2 L117.7,1105.1 L119.9,1104.9 L122.2,1104.7 L124.5,1104.3 L126.7,1103.8 L129.0,1103.5 L131.2,1103.2 L133.5,1103.0 L135.8,1102.8 L138.0,1102.7 L140.3,1102.5 L142.5,1102.3 L144.8,1101.9 L147.0,1100.9 L149.3,1100.0 L151.6,1099.5 L153.8,1099.0 L156.1,1098.6 L158.3,1098.2 L160.6,1097.9 L162.8,1097.7 L165.1,1097.6 L167.4,1097.4 L169.6,1097.3 L171.9,1097.2 L174.1,1097.2 L176.4,1097.1 L178.6,1097.1 L180.9,1097.2 L183.2,1097.3 L185.4,1097.4 L187.7,1097.4 L189.9,1097.5 L192.2,1097.6 L194.5,1097.6 L196.7,1097.6 L199.0,1097.5 L201.2,1097.5 L203.5,1097.4 L205.7,1097.3 L208.0,1097.2 L210.3,1097.2 L212.5,1097.1 L214.8,1096.9 L217.0,1096.8 L219.3,1096.6 L221.5,1096.4 L223.8,1096.2 L226.1,1096.0 L228.3,1095.8 L230.6,1095.5 L232.8,1095.2 L235.1,1094.8 L237.4,1094.5 L239.6,1094.3 L241.9,1094.0 L244.1,1093.8 L246.4,1093.5 L248.6,1093.3 L250.9,1093.1 L253.2,1092.8 L255.4,1092.6 L257.7,1092.3 L259.9,1092.0 L262.2,1091.7 L264.4,1091.4 L266.7,1091.1 L269.0,1090.8 L271.2,1090.5 L273.5,1090.2 L275.7,1089.9 L278.0,1089.5 L280.3,1089.2 L282.5,1088.9 L284.8,1088.6 L287.0,1088.3 L289.3,1088.0 L291.5,1087.7 L293.8,1087.4 L296.1,1087.1 L298.3,1086.8 L300.6,1086.5 L302.8,1086.1 L305.1,1085.8 L307.3,1085.4 L309.6,1085.1 L311.9,1084.7 L314.1,1084.3 L316.4,1083.8 L318.6,1083.2 L320.9,1082.6 L323.2,1081.9 L325.4,1081.3 L327.7,1080.6 L329.9,1079.9 L332.2,1079.3 L334.4,1078.7 L336.7,1078.1 L339.0,1077.6 L341.2,1077.1 L343.5,1076.5 L345.7,1075.9 L348.0,1075.3 L350.2,1074.5 L352.5,1073.7 L354.8,1072.8 L357.0,1071.8 L359.3,1070.7 L361.5,1069.7 L363.8,1068.5 L366.1,1067.3 L368.3,1066.0 L370.6,1064.9 L372.8,1063.8 L375.1,1062.8 L377.3,1061.8 L379.6,1060.9 L381.9,1059.9 L384.1,1059.0 L386.4,1058.1 L388.6,1057.2 L390.9,1056.4 L393.1,1055.6 L395.4,1054.8 L397.7,1054.1 L399.9,1053.5 L402.2,1052.9 L404.4,1052.3 L406.7,1051.7 L409.0,1051.0 L411.2,1050.3 L413.5,1049.5 L415.7,1048.7 L418.0,1048.0 L420.2,1047.4 L422.5,1046.9 L424.8,1046.4 L427.0,1045.9 L429.3,1045.4 L431.5,1044.9 L433.8,1044.4 L436.0,1044.0 L438.3,1043.5 L440.6,1043.1 L442.8,1042.7 L445.1,1042.2 L447.3,1041.8 L449.6,1041.5 L451.9,1041.1 L454.1,1040.8 L456.4,1040.6 L458.6,1040.3 L460.9,1040.0 L463.1,1039.7 L465.4,1039.4 L467.7,1039.0 L469.9,1038.6 L472.2,1038.2 L474.4,1037.8 L476.7,1037.4 L478.9,1037.0 L481.2,1036.7 L483.5,1036.4 L485.7,1036.1 L488.0,1035.8 L490.2,1035.5 L492.5,1035.3 L494.8,1035.0 L497.0,1034.8 L499.3,1034.5 L501.5,1034.3 L503.8,1034.0 L506.0,1033.8 L508.3,1033.6 L510.6,1033.4 L512.8,1033.1 L515.1,1032.9 L517.3,1032.7 L519.6,1032.5 L521.8,1032.3 L524.1,1032.1 L526.4,1031.9 L528.6,1031.8 L530.9,1031.6 L533.1,1031.5 L535.4,1031.4 L537.7,1031.3 L539.9,1031.2 L542.2,1031.1 L544.4,1031.0 L546.7,1030.9 L548.9,1030.8 L551.2,1030.7 L553.5,1030.6 L555.7,1030.5 L558.0,1030.4 L560.2,1030.3 L562.5,1030.1 L564.7,1030.0 L567.0,1029.9 L569.3,1029.8 L571.5,1029.6 L573.8,1029.5 L576.0,1029.4 L578.3,1029.2 L580.6,1029.1 L582.8,1028.9 L585.1,1028.8 L587.3,1028.6 L589.6,1028.4 L591.8,1028.3 L594.1,1028.1 L596.4,1027.9 L598.6,1027.7 L600.9,1027.5 L603.1,1027.3 L605.4,1027.0 L607.6,1026.7 L609.9,1026.4 L612.2,1026.0 L614.4,1025.8 L616.7,1025.5 L618.9,1025.2 L621.2,1024.9 L623.5,1024.6 L625.7,1024.4 L628.0,1024.1 L630.2,1023.9 L632.5,1023.7 L634.7,1023.5 L637.0,1023.3 L639.3,1023.1 L641.5,1022.9 L643.8,1022.7 L646.0,1022.6 L648.3,1022.4 L650.5,1022.3 L652.8,1022.2 L655.1,1022.1 L657.3,1021.9 L659.6,1021.8 L661.8,1021.7 L664.1,1021.6 L666.4,1021.5 L668.6,1021.4 L670.9,1021.3 L673.1,1021.2 L675.4,1021.2 L677.6,1021.2 L679.9,1021.2" fill="none" stroke="#ff0000" stroke-width="7.4" stroke-linecap="round" stroke-linejoin="round"/><circle cx="95.1" cy="1104.6" r="3.69" fill="#ff0000"/><circle cx="679.9" cy="1021.2" r="3.69" fill="#ff0000"/>
<path d="M95.1,1104.2 L97.4,1103.1 L99.6,1102.9 L101.9,1103.5 L104.1,1104.3 L106.4,1104.9 L108.7,1105.0 L110.9,1105.0 L113.2,1104.9 L115.4,1104.8 L117.7,1104.7 L119.9,1104.5 L122.2,1104.2 L124.5,1103.8 L126.7,1103.4 L129.0,1103.0 L131.2,1102.7 L133.5,1102.5 L135.8,1102.4 L138.0,1102.2 L140.3,1102.1 L142.5,1101.8 L144.8,1101.5 L147.0,1100.4 L149.3,1099.6 L151.6,1099.0 L153.8,1098.6 L156.1,1098.1 L158.3,1097.8 L160.6,1097.5 L162.8,1097.3 L165.1,1097.1 L167.4,1097.0 L169.6,1096.9 L171.9,1096.8 L174.1,1096.7 L176.4,1096.7 L178.6,1096.7 L180.9,1096.8 L183.2,1096.8 L185.4,1096.9 L187.7,1097.0 L189.9,1097.1 L192.2,1097.1 L194.5,1097.1 L196.7,1097.1 L199.0,1097.0 L201.2,1097.0 L203.5,1096.9 L205.7,1096.7 L208.0,1096.6 L210.3,1096.5 L212.5,1096.4 L214.8,1096.3 L217.0,1096.2 L219.3,1096.0 L221.5,1095.9 L223.8,1095.7 L226.1,1095.5 L228.3,1095.3 L230.6,1095.0 L232.8,1094.6 L235.1,1094.3 L237.4,1094.1 L239.6,1094.0 L241.9,1093.9 L244.1,1093.9 L246.4,1093.8 L248.6,1093.8 L250.9,1093.8 L253.2,1093.7 L255.4,1093.7 L257.7,1093.7 L259.9,1093.6 L262.2,1093.6 L264.4,1093.5 L266.7,1093.5 L269.0,1093.4 L271.2,1093.4 L273.5,1093.3 L275.7,1093.2 L278.0,1093.2 L280.3,1093.1 L282.5,1093.0 L284.8,1092.9 L287.0,1092.8 L289.3,1092.8 L291.5,1092.6 L293.8,1092.5 L296.1,1092.4 L298.3,1092.3 L300.6,1092.1 L302.8,1092.0 L305.1,1091.8 L307.3,1091.5 L309.6,1091.3 L311.9,1091.0 L314.1,1090.7 L316.4,1090.4 L318.6,1090.1 L320.9,1089.7 L323.2,1089.4 L325.4,1089.1 L327.7,1088.7 L329.9,1088.3 L332.2,1087.9 L334.4,1087.5 L336.7,1087.1 L339.0,1086.7 L341.2,1086.3 L343.5,1085.8 L345.7,1085.3 L348.0,1084.8 L350.2,1084.2 L352.5,1083.7 L354.8,1083.0 L357.0,1082.3 L359.3,1081.6 L361.5,1080.8 L363.8,1080.0 L366.1,1079.0 L368.3,1078.0 L370.6,1077.0 L372.8,1076.1 L375.1,1075.2 L377.3,1074.4 L379.6,1073.5 L381.9,1072.7 L384.1,1071.8 L386.4,1070.9 L388.6,1070.1 L390.9,1069.2 L393.1,1068.4 L395.4,1067.6 L397.7,1066.7 L399.9,1065.7 L402.2,1064.7 L404.4,1063.7 L406.7,1062.8 L409.0,1061.9 L411.2,1061.1 L413.5,1060.3 L415.7,1059.5 L418.0,1058.8 L420.2,1058.1 L422.5,1057.4 L424.8,1056.7 L427.0,1056.0 L429.3,1055.4 L431.5,1054.7 L433.8,1054.1 L436.0,1053.6 L438.3,1053.0 L440.6,1052.5 L442.8,1052.0 L445.1,1051.6 L447.3,1051.2 L449.6,1050.8 L451.9,1050.3 L454.1,1049.8 L456.4,1049.2 L458.6,1048.5 L460.9,1047.9 L463.1,1047.4 L465.4,1046.9 L467.7,1046.4 L469.9,1045.9 L472.2,1045.5 L474.4,1045.0 L476.7,1044.6 L478.9,1044.3 L481.2,1043.9 L483.5,1043.6 L485.7,1043.4 L488.0,1043.1 L490.2,1042.9 L492.5,1042.7 L494.8,1042.5 L497.0,1042.3 L499.3,1042.1 L501.5,1041.9 L503.8,1041.7 L506.0,1041.5 L508.3,1041.2 L510.6,1041.0 L512.8,1040.8 L515.1,1040.6 L517.3,1040.4 L519.6,1040.2 L521.8,1040.0 L524.1,1039.9 L526.4,1039.7 L528.6,1039.6 L530.9,1039.5 L533.1,1039.4 L535.4,1039.3 L537.7,1039.2 L539.9,1039.1 L542.2,1039.0 L544.4,1038.8 L546.7,1038.7 L548.9,1038.6 L551.2,1038.5 L553.5,1038.3 L555.7,1038.2 L558.0,1038.0 L560.2,1037.9 L562.5,1037.7 L564.7,1037.5 L567.0,1037.3 L569.3,1037.1 L571.5,1036.9 L573.8,1036.7 L576.0,1036.5 L578.3,1036.3 L580.6,1036.1 L582.8,1035.9 L585.1,1035.7 L587.3,1035.6 L589.6,1035.4 L591.8,1035.2 L594.1,1035.0 L596.4,1034.9 L598.6,1034.7 L600.9,1034.5 L603.1,1034.3 L605.4,1034.1 L607.6,1033.9 L609.9,1033.6 L612.2,1033.4 L614.4,1033.2 L616.7,1032.9 L618.9,1032.6 L621.2,1032.4 L623.5,1032.1 L625.7,1031.8 L628.0,1031.6 L630.2,1031.3 L632.5,1031.1 L634.7,1030.9 L637.0,1030.8 L639.3,1030.6 L641.5,1030.5 L643.8,1030.3 L646.0,1030.2 L648.3,1030.0 L650.5,1029.9 L652.8,1029.7 L655.1,1029.5 L657.3,1029.3 L659.6,1029.1 L661.8,1028.8 L664.1,1028.5 L666.4,1028.2 L668.6,1027.9 L670.9,1027.6 L673.1,1027.2 L675.4,1026.9 L677.6,1026.6 L679.9,1026.2" fill="none" stroke="#0000ff" stroke-width="7.8" stroke-linecap="round" stroke-linejoin="round"/><path d="M95.1,1099.9L99.4,1107.6L90.8,1107.6Z" fill="#0000ff"/><path d="M679.9,1021.9L684.2,1029.6L675.6,1029.6Z" fill="#0000ff"/>
<path d="M95.1,1104.2 L97.4,1103.1 L99.6,1102.9 L101.9,1103.7 L104.1,1104.6 L106.4,1105.4 L108.7,1105.5 L110.9,1105.4 L113.2,1105.3 L115.4,1105.2 L117.7,1105.1 L119.9,1104.9 L122.2,1104.7 L124.5,1104.3 L126.7,1103.8 L129.0,1103.5 L131.2,1103.2 L133.5,1103.0 L135.8,1102.8 L138.0,1102.7 L140.3,1102.5 L142.5,1102.3 L144.8,1101.9 L147.0,1100.9 L149.3,1100.0 L151.6,1099.5 L153.8,1099.0 L156.1,1098.6 L158.3,1098.2 L160.6,1097.9 L162.8,1097.7 L165.1,1097.6 L167.4,1097.4 L169.6,1097.3 L171.9,1097.2 L174.1,1097.2 L176.4,1097.1 L178.6,1097.2 L180.9,1097.2 L183.2,1097.3 L185.4,1097.5 L187.7,1097.6 L189.9,1097.7 L192.2,1097.8 L194.5,1097.8 L196.7,1097.8 L199.0,1097.7 L201.2,1097.6 L203.5,1097.5 L205.7,1097.4 L208.0,1097.3 L210.3,1097.2 L212.5,1097.1 L214.8,1097.0 L217.0,1096.9 L219.3,1096.7 L221.5,1096.6 L223.8,1096.5 L226.1,1096.4 L228.3,1096.2 L230.6,1096.1 L232.8,1095.9 L235.1,1095.7 L237.4,1095.4 L239.6,1095.1 L241.9,1094.7 L244.1,1094.1 L246.4,1093.5 L248.6,1092.9 L250.9,1092.3 L253.2,1091.6 L255.4,1091.0 L257.7,1090.5 L259.9,1090.0 L262.2,1089.6 L264.4,1089.1 L266.7,1088.6 L269.0,1088.2 L271.2,1087.8 L273.5,1087.4 L275.7,1087.0 L278.0,1086.6 L280.3,1086.2 L282.5,1085.8 L284.8,1085.4 L287.0,1085.1 L289.3,1084.7 L291.5,1084.4 L293.8,1084.1 L296.1,1083.7 L298.3,1083.4 L300.6,1083.1 L302.8,1082.7 L305.1,1082.4 L307.3,1082.1 L309.6,1081.8 L311.9,1081.4 L314.1,1081.0 L316.4,1080.5 L318.6,1079.9 L320.9,1079.2 L323.2,1078.6 L325.4,1077.9 L327.7,1077.3 L329.9,1076.8 L332.2,1076.4 L334.4,1076.1 L336.7,1075.9 L339.0,1075.7 L341.2,1075.6 L343.5,1075.4 L345.7,1075.2 L348.0,1075.0 L350.2,1074.6 L352.5,1074.1 L354.8,1073.4 L357.0,1072.6 L359.3,1071.8 L361.5,1071.1 L363.8,1070.3 L366.1,1069.6 L368.3,1068.9 L370.6,1068.1 L372.8,1067.4 L375.1,1066.7 L377.3,1066.0 L379.6,1065.1 L381.9,1064.0 L384.1,1062.9 L386.4,1061.6 L388.6,1060.4 L390.9,1059.6 L393.1,1059.1 L395.4,1058.6 L397.7,1058.2 L399.9,1057.8 L402.2,1057.4 L404.4,1057.0 L406.7,1056.7 L409.0,1056.3 L411.2,1055.9 L413.5,1055.6 L415.7,1055.2 L418.0,1054.9 L420.2,1054.6 L422.5,1054.3 L424.8,1054.1 L427.0,1053.8 L429.3,1053.6 L431.5,1053.3 L433.8,1053.0 L436.0,1052.7 L438.3,1052.4 L440.6,1052.1 L442.8,1051.8 L445.1,1051.5 L447.3,1051.2 L449.6,1051.0 L451.9,1050.7 L454.1,1050.5 L456.4,1050.3 L458.6,1050.1 L460.9,1049.9 L463.1,1049.7 L465.4,1049.4 L467.7,1049.2 L469.9,1049.0 L472.2,1048.8 L474.4,1048.5 L476.7,1048.3 L478.9,1048.1 L481.2,1048.0 L483.5,1047.8 L485.7,1047.6 L488.0,1047.5 L490.2,1047.3 L492.5,1047.2 L494.8,1047.1 L497.0,1046.9 L499.3,1046.8 L501.5,1046.7 L503.8,1046.6 L506.0,1046.5 L508.3,1046.4 L510.6,1046.3 L512.8,1046.2 L515.1,1046.1 L517.3,1046.0 L519.6,1045.9 L521.8,1045.8 L524.1,1045.7 L526.4,1045.6 L528.6,1045.6 L530.9,1045.5 L533.1,1045.4 L535.4,1045.4 L537.7,1045.3 L539.9,1045.3 L542.2,1045.2 L544.4,1045.2 L546.7,1045.1 L548.9,1045.1 L551.2,1045.1 L553.5,1045.0 L555.7,1045.0 L558.0,1045.0 L560.2,1044.9 L562.5,1044.9 L564.7,1044.9 L567.0,1044.8 L569.3,1044.8 L571.5,1044.8 L573.8,1044.8 L576.0,1044.7 L578.3,1044.7 L580.6,1044.7 L582.8,1044.6 L585.1,1044.6 L587.3,1044.5 L589.6,1044.5 L591.8,1044.4 L594.1,1044.4 L596.4,1044.3 L598.6,1044.2 L600.9,1044.2 L603.1,1044.1 L605.4,1044.0 L607.6,1043.8 L609.9,1043.7 L612.2,1043.6 L614.4,1043.5 L616.7,1043.3 L618.9,1043.2 L621.2,1043.0 L623.5,1042.9 L625.7,1042.7 L628.0,1042.6 L630.2,1042.5 L632.5,1042.3 L634.7,1042.2 L637.0,1042.1 L639.3,1042.0 L641.5,1041.9 L643.8,1041.8 L646.0,1041.7 L648.3,1041.6 L650.5,1041.5 L652.8,1041.3 L655.1,1041.2 L657.3,1041.0 L659.6,1040.9 L661.8,1040.7 L664.1,1040.5 L666.4,1040.3 L668.6,1040.1 L670.9,1039.8 L673.1,1039.6 L675.4,1039.3 L677.6,1039.0 L679.9,1038.5" fill="none" stroke="#ff00ff" stroke-width="7.8" stroke-linecap="round" stroke-linejoin="round"/><path d="M95.1,1108.5L99.4,1100.8L90.8,1100.8Z" fill="#ff00ff"/><path d="M679.9,1042.8L684.2,1035.1L675.6,1035.1Z" fill="#ff00ff"/>
<path d="M95.1,1106.8 L97.4,1106.2 L99.6,1106.2 L101.9,1106.5 L104.1,1107.0 L106.4,1107.4 L108.7,1107.4 L110.9,1107.4 L113.2,1107.3 L115.4,1107.1 L117.7,1107.0 L119.9,1106.8 L122.2,1106.5 L124.5,1106.1 L126.7,1105.8 L129.0,1105.4 L131.2,1105.1 L133.5,1104.8 L135.8,1104.5 L138.0,1104.3 L140.3,1104.0 L142.5,1103.7 L144.8,1103.5 L147.0,1103.1 L149.3,1101.7 L151.6,1101.4 L153.8,1101.3 L156.1,1101.1 L158.3,1101.0 L160.6,1100.7 L162.8,1100.2 L165.1,1099.8 L167.4,1099.6 L169.6,1099.4 L171.9,1099.3 L174.1,1099.2 L176.4,1099.2 L178.6,1099.2 L180.9,1099.3 L183.2,1099.4 L185.4,1099.6 L187.7,1099.8 L189.9,1100.0 L192.2,1100.1 L194.5,1100.1 L196.7,1100.0 L199.0,1100.0 L201.2,1099.8 L203.5,1099.7 L205.7,1099.5 L208.0,1099.4 L210.3,1099.2 L212.5,1099.0 L214.8,1098.8 L217.0,1098.5 L219.3,1098.2 L221.5,1097.9 L223.8,1097.6 L226.1,1097.2 L228.3,1096.8 L230.6,1096.4 L232.8,1096.0 L235.1,1095.5 L237.4,1095.0 L239.6,1094.5 L241.9,1094.0 L244.1,1093.5 L246.4,1093.0 L248.6,1092.5 L250.9,1092.0 L253.2,1091.5 L255.4,1091.1 L257.7,1090.7 L259.9,1090.3 L262.2,1089.9 L264.4,1089.6 L266.7,1089.2 L269.0,1088.9 L271.2,1088.6 L273.5,1088.3 L275.7,1088.0 L278.0,1087.6 L280.3,1087.3 L282.5,1087.0 L284.8,1086.6 L287.0,1086.3 L289.3,1085.9 L291.5,1085.5 L293.8,1085.2 L296.1,1084.8 L298.3,1084.5 L300.6,1084.2 L302.8,1083.8 L305.1,1083.5 L307.3,1083.3 L309.6,1083.0 L311.9,1082.7 L314.1,1082.3 L316.4,1081.8 L318.6,1081.2 L320.9,1080.6 L323.2,1079.9 L325.4,1079.2 L327.7,1078.5 L329.9,1077.8 L332.2,1077.1 L334.4,1076.5 L336.7,1075.9 L339.0,1075.4 L341.2,1074.9 L343.5,1074.3 L345.7,1073.7 L348.0,1073.1 L350.2,1072.3 L352.5,1071.5 L354.8,1070.6 L357.0,1069.6 L359.3,1068.5 L361.5,1067.5 L363.8,1066.2 L366.1,1064.9 L368.3,1063.5 L370.6,1062.3 L372.8,1061.1 L375.1,1060.0 L377.3,1059.0 L379.6,1058.0 L381.9,1057.1 L384.1,1056.2 L386.4,1055.4 L388.6,1054.7 L390.9,1053.8 L393.1,1052.7 L395.4,1051.7 L397.7,1051.1 L399.9,1050.7 L402.2,1050.3 L404.4,1050.0 L406.7,1049.6 L409.0,1049.1 L411.2,1048.4 L413.5,1047.7 L415.7,1046.9 L418.0,1046.3 L420.2,1045.6 L422.5,1045.0 L424.8,1044.4 L427.0,1043.9 L429.3,1043.4 L431.5,1042.9 L433.8,1042.4 L436.0,1041.9 L438.3,1041.5 L440.6,1041.1 L442.8,1040.6 L445.1,1040.2 L447.3,1039.7 L449.6,1039.3 L451.9,1038.9 L454.1,1038.5 L456.4,1038.1 L458.6,1037.7 L460.9,1037.3 L463.1,1036.9 L465.4,1036.5 L467.7,1036.0 L469.9,1035.6 L472.2,1035.2 L474.4,1034.8 L476.7,1034.4 L478.9,1034.0 L481.2,1033.6 L483.5,1033.3 L485.7,1033.0 L488.0,1032.7 L490.2,1032.4 L492.5,1032.1 L494.8,1031.8 L497.0,1031.5 L499.3,1031.2 L501.5,1031.0 L503.8,1030.7 L506.0,1030.5 L508.3,1030.2 L510.6,1030.0 L512.8,1029.8 L515.1,1029.6 L517.3,1029.3 L519.6,1029.1 L521.8,1028.9 L524.1,1028.7 L526.4,1028.5 L528.6,1028.3 L530.9,1028.0 L533.1,1027.8 L535.4,1027.6 L537.7,1027.3 L539.9,1027.1 L542.2,1026.8 L544.4,1026.6 L546.7,1026.3 L548.9,1026.1 L551.2,1025.8 L553.5,1025.6 L555.7,1025.3 L558.0,1025.1 L560.2,1024.8 L562.5,1024.6 L564.7,1024.3 L567.0,1024.1 L569.3,1023.9 L571.5,1023.6 L573.8,1023.4 L576.0,1023.2 L578.3,1023.0 L580.6,1022.8 L582.8,1022.6 L585.1,1022.4 L587.3,1022.2 L589.6,1022.1 L591.8,1021.9 L594.1,1021.8 L596.4,1021.6 L598.6,1021.5 L600.9,1021.3 L603.1,1021.1 L605.4,1021.0 L607.6,1020.8 L609.9,1020.6 L612.2,1020.5 L614.4,1020.3 L616.7,1020.2 L618.9,1020.1 L621.2,1020.0 L623.5,1020.0 L625.7,1019.9 L628.0,1019.8 L630.2,1019.7 L632.5,1019.6 L634.7,1019.5 L637.0,1019.4 L639.3,1019.3 L641.5,1019.1 L643.8,1019.0 L646.0,1018.8 L648.3,1018.6 L650.5,1018.5 L652.8,1018.3 L655.1,1018.1 L657.3,1017.9 L659.6,1017.7 L661.8,1017.5 L664.1,1017.2 L666.4,1017.0 L668.6,1016.7 L670.9,1016.4 L673.1,1016.1 L675.4,1015.8 L677.6,1015.5 L679.9,1015.2" fill="none" stroke="#008000" stroke-width="8.0" stroke-linecap="round" stroke-linejoin="round"/><path d="M95.1,1101.9L100.0,1106.8L95.1,1111.7L90.2,1106.8Z" fill="#008000"/><path d="M679.9,1010.3L684.8,1015.2L679.9,1020.1L675.0,1015.2Z" fill="#008000"/>
<path d="M95.1,1103.5 L97.4,1102.3 L99.6,1102.1 L101.9,1102.7 L104.1,1103.6 L106.4,1104.2 L108.7,1104.3 L110.9,1104.2 L113.2,1104.2 L115.4,1104.1 L117.7,1103.9 L119.9,1103.8 L122.2,1103.5 L124.5,1103.0 L126.7,1102.6 L129.0,1102.2 L131.2,1102.0 L133.5,1101.8 L135.8,1101.6 L138.0,1101.4 L140.3,1101.3 L142.5,1101.1 L144.8,1100.9 L147.0,1100.4 L149.3,1098.7 L151.6,1098.1 L153.8,1097.7 L156.1,1097.4 L158.3,1097.1 L160.6,1096.8 L162.8,1096.6 L165.1,1096.4 L167.4,1096.2 L169.6,1096.1 L171.9,1095.9 L174.1,1095.9 L176.4,1095.8 L178.6,1095.8 L180.9,1095.9 L183.2,1096.0 L185.4,1096.1 L187.7,1096.2 L189.9,1096.3 L192.2,1096.3 L194.5,1096.3 L196.7,1096.3 L199.0,1096.3 L201.2,1096.2 L203.5,1096.1 L205.7,1096.0 L208.0,1095.9 L210.3,1095.8 L212.5,1095.7 L214.8,1095.6 L217.0,1095.5 L219.3,1095.3 L221.5,1095.1 L223.8,1095.0 L226.1,1094.8 L228.3,1094.6 L230.6,1094.4 L232.8,1094.1 L235.1,1093.9 L237.4,1093.7 L239.6,1093.5 L241.9,1093.3 L244.1,1093.1 L246.4,1093.0 L248.6,1092.8 L250.9,1092.7 L253.2,1092.5 L255.4,1092.4 L257.7,1092.2 L259.9,1092.0 L262.2,1091.8 L264.4,1091.7 L266.7,1091.5 L269.0,1091.3 L271.2,1091.1 L273.5,1090.9 L275.7,1090.7 L278.0,1090.5 L280.3,1090.3 L282.5,1090.1 L284.8,1089.9 L287.0,1089.7 L289.3,1089.5 L291.5,1089.3 L293.8,1089.0 L296.1,1088.8 L298.3,1088.5 L300.6,1088.3 L302.8,1088.0 L305.1,1087.6 L307.3,1087.2 L309.6,1086.8 L311.9,1086.3 L314.1,1085.8 L316.4,1085.2 L318.6,1084.6 L320.9,1083.9 L323.2,1083.1 L325.4,1082.4 L327.7,1081.6 L329.9,1080.8 L332.2,1080.1 L334.4,1079.3 L336.7,1078.6 L339.0,1077.9 L341.2,1077.2 L343.5,1076.5 L345.7,1075.7 L348.0,1074.9 L350.2,1074.0 L352.5,1073.0 L354.8,1071.9 L357.0,1070.7 L359.3,1069.5 L361.5,1068.3 L363.8,1067.0 L366.1,1065.7 L368.3,1064.4 L370.6,1063.1 L372.8,1062.0 L375.1,1060.9 L377.3,1059.8 L379.6,1058.8 L381.9,1057.8 L384.1,1056.8 L386.4,1055.7 L388.6,1054.7 L390.9,1053.9 L393.1,1053.2 L395.4,1052.6 L397.7,1051.8 L399.9,1050.8 L402.2,1049.8 L404.4,1048.7 L406.7,1047.6 L409.0,1046.7 L411.2,1045.7 L413.5,1044.8 L415.7,1043.9 L418.0,1043.0 L420.2,1042.3 L422.5,1041.5 L424.8,1040.9 L427.0,1040.2 L429.3,1039.6 L431.5,1039.0 L433.8,1038.4 L436.0,1037.8 L438.3,1037.2 L440.6,1036.7 L442.8,1036.2 L445.1,1035.7 L447.3,1035.3 L449.6,1034.9 L451.9,1034.4 L454.1,1033.9 L456.4,1033.4 L458.6,1032.9 L460.9,1032.5 L463.1,1032.0 L465.4,1031.6 L467.7,1031.2 L469.9,1030.9 L472.2,1030.5 L474.4,1030.1 L476.7,1029.8 L478.9,1029.5 L481.2,1029.2 L483.5,1028.9 L485.7,1028.7 L488.0,1028.4 L490.2,1028.2 L492.5,1028.0 L494.8,1027.8 L497.0,1027.6 L499.3,1027.4 L501.5,1027.2 L503.8,1027.0 L506.0,1026.8 L508.3,1026.6 L510.6,1026.4 L512.8,1026.2 L515.1,1026.1 L517.3,1025.9 L519.6,1025.7 L521.8,1025.6 L524.1,1025.4 L526.4,1025.2 L528.6,1025.1 L530.9,1024.9 L533.1,1024.8 L535.4,1024.6 L537.7,1024.5 L539.9,1024.3 L542.2,1024.2 L544.4,1024.0 L546.7,1023.9 L548.9,1023.7 L551.2,1023.5 L553.5,1023.4 L555.7,1023.2 L558.0,1023.1 L560.2,1022.9 L562.5,1022.8 L564.7,1022.6 L567.0,1022.5 L569.3,1022.3 L571.5,1022.2 L573.8,1022.0 L576.0,1021.9 L578.3,1021.7 L580.6,1021.6 L582.8,1021.5 L585.1,1021.3 L587.3,1021.1 L589.6,1021.0 L591.8,1020.8 L594.1,1020.7 L596.4,1020.6 L598.6,1020.4 L600.9,1020.4 L603.1,1020.3 L605.4,1020.2 L607.6,1020.2 L609.9,1020.1 L612.2,1020.1 L614.4,1020.0 L616.7,1019.9 L618.9,1019.8 L621.2,1019.8 L623.5,1019.6 L625.7,1019.5 L628.0,1019.4 L630.2,1019.3 L632.5,1019.2 L634.7,1019.1 L637.0,1018.9 L639.3,1018.8 L641.5,1018.7 L643.8,1018.5 L646.0,1018.4 L648.3,1018.2 L650.5,1018.0 L652.8,1017.9 L655.1,1017.7 L657.3,1017.4 L659.6,1017.2 L661.8,1016.9 L664.1,1016.6 L666.4,1016.3 L668.6,1015.9 L670.9,1015.6 L673.1,1015.3 L675.4,1015.0 L677.6,1014.8 L679.9,1014.6" fill="none" stroke="#000080" stroke-width="8.2" stroke-linecap="round" stroke-linejoin="round"/><path d="M90.6,1103.5L98.7,1099.0L98.7,1108.0Z" fill="#000080"/><path d="M675.4,1014.6L683.5,1010.1L683.5,1019.1Z" fill="#000080"/>
<text x="85.7" y="1162.0" font-size="24.6" text-anchor="middle" >200</text>
<text x="184.7" y="1162.0" font-size="24.6" text-anchor="middle" >400</text>
<text x="283.8" y="1162.0" font-size="24.6" text-anchor="middle" >600</text>
<text x="382.8" y="1162.0" font-size="24.6" text-anchor="middle" >800</text>
<text x="477.5" y="1162.0" font-size="24.6" text-anchor="middle" >1000</text>
<text x="576.6" y="1162.0" font-size="24.6" text-anchor="middle" >1200</text>
<text x="675.6" y="1162.0" font-size="24.6" text-anchor="middle" >1400</text>
<text x="75.6" y="1140.9" font-size="24.6" text-anchor="end" >0</text>
<text x="75.6" y="1053.1" font-size="24.6" text-anchor="end" >20</text>
<text x="75.6" y="965.3" font-size="24.6" text-anchor="end" >40</text>
<text x="75.6" y="877.4" font-size="24.6" text-anchor="end" >60</text>
<text x="75.6" y="789.6" font-size="24.6" text-anchor="end" >80</text>
<text x="75.6" y="701.8" font-size="24.6" text-anchor="end" >100</text>
<text x="382.6" y="1197.6" font-size="24.6" text-anchor="middle" >wavelength (nm)</text>
<text transform="translate(21.4,893) rotate(-90)" font-size="25.2" text-anchor="middle">diffuse reflectance (%)</text>
<rect x="136.4" y="725.7" width="155.1" height="164.7" fill="#fff" stroke="#6a6a6a" stroke-width="0.9"/>
<rect x="164.24" y="738.44" width="5.52" height="5.52" fill="#000"/>
<text x="192.0" y="748.6" font-size="21.6" text-anchor="start" >baseline</text>
<circle cx="167.0" cy="768.9" r="3.15" fill="#ff0000"/>
<text x="192.0" y="776.0" font-size="21.6" text-anchor="start" >S0_Ann.</text>
<path d="M167.0,792.1L170.4,798.4L163.6,798.4Z" fill="#0000ff"/>
<text x="192.0" y="802.7" font-size="21.6" text-anchor="start" >S2_Ann.</text>
<path d="M167.0,827.1L170.4,820.8L163.6,820.8Z" fill="#ff00ff"/>
<text x="192.0" y="829.9" font-size="21.6" text-anchor="start" >S4_Ann.</text>
<path d="M167.0,845.9L170.9,849.8L167.0,853.7L163.1,849.8Z" fill="#008000"/>
<text x="192.0" y="856.6" font-size="21.6" text-anchor="start" >S6_Ann.</text>
<path d="M163.6,877.0L169.8,873.5L169.8,880.5Z" fill="#000080"/>
<text x="192.0" y="883.6" font-size="21.6" text-anchor="start" >S8_Ann.</text>
<rect x="348.7" y="722.5" width="303.4" height="246.2" fill="#fff"/>
<text x="373.5" y="714.9" font-size="13.85" text-anchor="start" >480 nm: absorption edge</text>
<line x1="419.5" x2="419.5" y1="722.5" y2="968.7" stroke="#ff0080" stroke-width="1.1"/>
<rect x="348.7" y="722.5" width="303.4" height="246.2" fill="none" stroke="#363636" stroke-width="1.15"/>
<path d="M374.0,968.7v-2.3M374.0,722.5v2.3M399.3,968.7v-4.5M399.3,722.5v4.5M424.6,968.7v-2.3M424.6,722.5v2.3M449.8,968.7v-4.5M449.8,722.5v4.5M475.1,968.7v-2.3M475.1,722.5v2.3M500.4,968.7v-4.5M500.4,722.5v4.5M525.7,968.7v-2.3M525.7,722.5v2.3M551.0,968.7v-4.5M551.0,722.5v4.5M576.2,968.7v-2.3M576.2,722.5v2.3M601.5,968.7v-4.5M601.5,722.5v4.5M626.8,968.7v-2.3M626.8,722.5v2.3M348.7,948.2h4.5M652.1,948.2h-4.5M348.7,927.7h2.3M652.1,927.7h-2.3M348.7,907.1h4.5M652.1,907.1h-4.5M348.7,886.6h2.3M652.1,886.6h-2.3M348.7,866.0h4.5M652.1,866.0h-4.5M348.7,845.5h2.3M652.1,845.5h-2.3M348.7,824.9h4.5M652.1,824.9h-4.5M348.7,804.4h2.3M652.1,804.4h-2.3M348.7,783.8h4.5M652.1,783.8h-4.5M348.7,763.2h2.3M652.1,763.2h-2.3M348.7,742.7h4.5M652.1,742.7h-4.5" stroke="#363636" stroke-width="1.0" fill="none"/>
<path d="M353.0,742.7 L354.5,742.7 L356.0,742.7 L357.5,742.8 L359.0,742.8 L360.5,742.8 L362.0,742.7 L363.5,742.7 L365.0,742.6 L366.5,742.6 L368.0,742.6 L369.5,742.6 L371.0,742.6 L372.5,742.6 L374.0,742.6 L375.5,742.6 L377.0,742.6 L378.5,742.6 L380.1,742.6 L381.6,742.6 L383.1,742.6 L384.6,742.7 L386.1,742.7 L387.6,742.7 L389.1,742.7 L390.6,742.8 L392.1,742.8 L393.6,742.8 L395.1,742.9 L396.6,742.8 L398.1,742.8 L399.6,742.8 L401.1,742.8 L402.6,742.7 L404.1,742.7 L405.6,742.6 L407.1,742.6 L408.6,742.6 L410.1,742.6 L411.6,742.6 L413.1,742.6 L414.6,742.7 L416.1,742.7 L417.6,742.7 L419.1,742.8 L420.6,742.8 L422.1,742.8 L423.6,742.8 L425.1,742.8 L426.6,742.8 L428.1,742.8 L429.7,742.9 L431.2,742.9 L432.7,742.8 L434.2,742.8 L435.7,742.8 L437.2,742.8 L438.7,742.8 L440.2,742.8 L441.7,742.8 L443.2,742.8 L444.7,742.7 L446.2,742.7 L447.7,742.7 L449.2,742.7 L450.7,742.7 L452.2,742.7 L453.7,742.7 L455.2,742.7 L456.7,742.6 L458.2,742.6 L459.7,742.6 L461.2,742.6 L462.7,742.6 L464.2,742.6 L465.7,742.7 L467.2,742.7 L468.7,742.8 L470.2,742.8 L471.7,742.8 L473.2,742.8 L474.7,742.8 L476.2,742.8 L477.7,742.8 L479.3,742.8 L480.8,742.8 L482.3,742.7 L483.8,742.7 L485.3,742.7 L486.8,742.6 L488.3,742.6 L489.8,742.7 L491.3,742.7 L492.8,742.7 L494.3,742.7 L495.8,742.6 L497.3,742.6 L498.8,742.5 L500.3,742.5 L501.8,742.5 L503.3,742.5 L504.8,742.6 L506.3,742.7 L507.8,742.7 L509.3,742.8 L510.8,742.8 L512.3,742.8 L513.8,742.8 L515.3,742.8 L516.8,742.8 L518.3,742.8 L519.8,742.7 L521.3,742.7 L522.8,742.6 L524.3,742.5 L525.8,742.5 L527.3,742.5 L528.9,742.5 L530.4,742.5 L531.9,742.5 L533.4,742.6 L534.9,742.6 L536.4,742.6 L537.9,742.7 L539.4,742.7 L540.9,742.7 L542.4,742.7 L543.9,742.7 L545.4,742.7 L546.9,742.7 L548.4,742.7 L549.9,742.7 L551.4,742.7 L552.9,742.7 L554.4,742.7 L555.9,742.8 L557.4,742.8 L558.9,742.7 L560.4,742.7 L561.9,742.7 L563.4,742.7 L564.9,742.7 L566.4,742.8 L567.9,742.8 L569.4,742.8 L570.9,742.8 L572.4,742.8 L573.9,742.8 L575.4,742.8 L576.9,742.8 L578.5,742.7 L580.0,742.7 L581.5,742.6 L583.0,742.6 L584.5,742.6 L586.0,742.6 L587.5,742.6 L589.0,742.6 L590.5,742.6 L592.0,742.6 L593.5,742.6 L595.0,742.5 L596.5,742.5 L598.0,742.5 L599.5,742.5 L601.0,742.5 L602.5,742.5 L604.0,742.5 L605.5,742.5 L607.0,742.5 L608.5,742.4 L610.0,742.5 L611.5,742.5 L613.0,742.6 L614.5,742.6 L616.0,742.6 L617.5,742.6 L619.0,742.6 L620.5,742.6 L622.0,742.6 L623.5,742.7 L625.0,742.7 L626.5,742.8 L628.1,742.8 L629.6,742.8 L631.1,742.8 L632.6,742.7 L634.1,742.6 L635.6,742.6 L637.1,742.5 L638.6,742.6 L640.1,742.6 L641.6,742.7 L643.1,742.7 L644.6,742.8 L646.1,742.8 L647.6,742.8 L649.1,742.7 L650.6,742.7 L652.1,742.7" fill="none" stroke="#000" stroke-width="3.0" stroke-linecap="round" stroke-linejoin="round"/>
<path d="M352.7,948.2 L353.9,948.2 L355.1,948.2 L356.2,948.2 L357.4,948.2 L358.5,948.2 L359.7,948.2 L360.8,948.2 L362.0,948.2 L363.1,948.2 L364.3,948.2 L365.5,948.2 L366.6,948.2 L367.8,948.2 L368.9,948.2 L370.1,948.2 L371.2,948.2 L372.4,948.2 L373.5,948.2 L374.7,948.2 L375.9,948.2 L377.0,948.2 L378.2,948.2 L379.3,948.2 L380.5,948.2 L381.6,948.2 L382.8,948.2 L384.0,948.2 L385.1,948.2 L386.3,948.2 L387.4,948.2 L388.6,948.2 L389.7,948.2 L390.9,948.2 L392.0,948.2 L393.2,948.2 L394.4,948.2 L395.5,948.2 L396.7,948.2 L397.8,948.2 L399.0,948.2 L400.1,948.2 L401.3,948.2 L402.4,948.2 L403.6,948.2 L404.8,948.2 L405.9,948.2 L407.1,948.2 L408.2,948.2 L409.4,948.2 L410.5,948.2 L411.7,948.2 L412.8,948.2 L414.0,948.2 L415.2,948.2 L416.3,948.2 L417.5,948.2 L418.6,948.2 L419.8,948.1 L420.9,947.8 L422.1,947.2 L423.2,946.5 L424.4,945.8 L425.6,945.2 L426.7,944.4 L427.9,943.6 L429.0,942.7 L430.2,941.7 L431.3,940.7 L432.5,939.8 L433.7,938.8 L434.8,937.8 L436.0,936.8 L437.1,935.9 L438.3,934.9 L439.4,933.9 L440.6,932.9 L441.7,931.9 L442.9,930.8 L444.1,929.8 L445.2,928.7 L446.4,927.6 L447.5,926.5 L448.7,925.5 L449.8,924.6 L451.0,923.7 L452.1,922.8 L453.3,921.9 L454.5,921.1 L455.6,920.3 L456.8,919.5 L457.9,918.7 L459.1,917.8 L460.2,916.9 L461.4,916.0 L462.5,915.1 L463.7,914.2 L464.9,913.3 L466.0,912.4 L467.2,911.4 L468.3,910.5 L469.5,909.6 L470.6,908.7 L471.8,907.8 L472.9,906.9 L474.1,906.0 L475.3,905.1 L476.4,904.2 L477.6,903.3 L478.7,902.4 L479.9,901.5 L481.0,900.6 L482.2,899.7 L483.4,898.8 L484.5,897.8 L485.7,896.8 L486.8,895.8 L488.0,894.8 L489.1,893.9 L490.3,893.0 L491.4,892.1 L492.6,891.2 L493.8,890.3 L494.9,889.4 L496.1,888.4 L497.2,887.4 L498.4,886.4 L499.5,885.3 L500.7,884.2 L501.8,883.0 L503.0,881.6 L504.2,880.2 L505.3,878.7 L506.5,877.3 L507.6,876.0 L508.8,874.7 L509.9,873.4 L511.1,872.3 L512.2,871.2 L513.4,870.2 L514.6,869.3 L515.7,868.4 L516.9,867.5 L518.0,866.7 L519.2,866.0 L520.3,865.2 L521.5,864.5 L522.6,863.8 L523.8,863.2 L525.0,862.6 L526.1,862.0 L527.3,861.4 L528.4,860.8 L529.6,860.3 L530.7,859.8 L531.9,859.3 L533.1,858.8 L534.2,858.4 L535.4,858.0 L536.5,857.6 L537.7,857.2 L538.8,856.8 L540.0,856.5 L541.1,856.1 L542.3,855.8 L543.5,855.5 L544.6,855.2 L545.8,854.9 L546.9,854.6 L548.1,854.3 L549.2,854.0 L550.4,853.7 L551.5,853.4 L552.7,853.1 L553.9,852.9 L555.0,852.6 L556.2,852.4 L557.3,852.1 L558.5,851.9 L559.6,851.7 L560.8,851.4 L561.9,851.2 L563.1,851.0 L564.3,850.8 L565.4,850.6 L566.6,850.4 L567.7,850.2 L568.9,850.0 L570.0,849.7 L571.2,849.5 L572.3,849.3 L573.5,849.1 L574.7,848.8 L575.8,848.6 L577.0,848.4 L578.1,848.1 L579.3,847.9 L580.4,847.6 L581.6,847.4 L582.8,847.1 L583.9,846.8 L585.1,846.5 L586.2,846.2 L587.4,846.0 L588.5,845.7 L589.7,845.4 L590.8,845.1 L592.0,844.8 L593.2,844.5 L594.3,844.1 L595.5,843.8 L596.6,843.5 L597.8,843.2 L598.9,842.9 L600.1,842.6 L601.2,842.3 L602.4,842.0 L603.6,841.7 L604.7,841.4 L605.9,841.1 L607.0,840.8 L608.2,840.5 L609.3,840.1 L610.5,839.8 L611.6,839.5 L612.8,839.2 L614.0,838.9 L615.1,838.6 L616.3,838.2 L617.4,837.9 L618.6,837.6 L619.7,837.3 L620.9,837.0 L622.0,836.7 L623.2,836.4 L624.4,836.0 L625.5,835.7 L626.7,835.4 L627.8,835.1 L629.0,834.8 L630.1,834.5 L631.3,834.2 L632.5,833.8 L633.6,833.5 L634.8,833.2 L635.9,832.9 L637.1,832.6 L638.2,832.3 L639.4,832.0 L640.5,831.7 L641.7,831.4 L642.9,831.1 L644.0,830.8 L645.2,830.6 L646.3,830.3 L647.5,830.0 L648.6,829.8 L649.8,829.5 L650.9,829.3 L652.1,829.0" fill="none" stroke="#ff0000" stroke-width="3.5" stroke-linecap="round" stroke-linejoin="round"/><circle cx="352.7" cy="948.2" r="1.75" fill="#ff0000"/><circle cx="652.1" cy="829.0" r="1.75" fill="#ff0000"/>
<path d="M352.7,948.2 L353.9,948.2 L355.1,948.2 L356.2,948.2 L357.4,948.2 L358.5,948.2 L359.7,948.2 L360.8,948.2 L362.0,948.2 L363.1,948.2 L364.3,948.2 L365.5,948.2 L366.6,948.2 L367.8,948.2 L368.9,948.2 L370.1,948.2 L371.2,948.2 L372.4,948.2 L373.5,948.2 L374.7,948.2 L375.9,948.2 L377.0,948.2 L378.2,948.2 L379.3,948.2 L380.5,948.2 L381.6,948.2 L382.8,948.2 L384.0,948.2 L385.1,948.2 L386.3,948.2 L387.4,948.2 L388.6,948.2 L389.7,948.2 L390.9,948.2 L392.0,948.2 L393.2,948.2 L394.4,948.2 L395.5,948.2 L396.7,948.2 L397.8,948.2 L399.0,948.2 L400.1,948.2 L401.3,948.2 L402.4,948.2 L403.6,948.2 L404.8,948.2 L405.9,948.2 L407.1,948.2 L408.2,948.2 L409.4,948.2 L410.5,948.2 L411.7,948.2 L412.8,948.2 L414.0,948.0 L415.2,947.7 L416.3,947.3 L417.5,947.0 L418.6,946.5 L419.8,946.0 L420.9,945.3 L422.1,944.5 L423.2,943.7 L424.4,943.0 L425.6,942.4 L426.7,941.9 L427.9,941.4 L429.0,941.0 L430.2,940.5 L431.3,940.1 L432.5,939.7 L433.7,939.2 L434.8,938.7 L436.0,938.1 L437.1,937.6 L438.3,937.0 L439.4,936.3 L440.6,935.7 L441.7,935.1 L442.9,934.4 L444.1,933.8 L445.2,933.2 L446.4,932.6 L447.5,931.9 L448.7,931.3 L449.8,930.7 L451.0,930.1 L452.1,929.4 L453.3,928.7 L454.5,928.0 L455.6,927.2 L456.8,926.3 L457.9,925.3 L459.1,924.3 L460.2,923.3 L461.4,922.3 L462.5,921.3 L463.7,920.2 L464.9,919.2 L466.0,918.1 L467.2,917.0 L468.3,915.8 L469.5,914.7 L470.6,913.5 L471.8,912.3 L472.9,911.1 L474.1,909.8 L475.3,908.5 L476.4,907.1 L477.6,905.8 L478.7,904.3 L479.9,902.9 L481.0,901.3 L482.2,899.8 L483.4,898.2 L484.5,896.5 L485.7,894.8 L486.8,893.0 L488.0,891.3 L489.1,889.5 L490.3,887.8 L491.4,886.0 L492.6,884.3 L493.8,882.6 L494.9,880.9 L496.1,879.2 L497.2,877.5 L498.4,875.9 L499.5,874.3 L500.7,872.6 L501.8,870.9 L503.0,869.1 L504.2,867.3 L505.3,865.5 L506.5,863.8 L507.6,862.2 L508.8,860.7 L509.9,859.2 L511.1,857.9 L512.2,856.6 L513.4,855.6 L514.6,854.6 L515.7,853.7 L516.9,852.9 L518.0,852.1 L519.2,851.2 L520.3,850.4 L521.5,849.6 L522.6,848.8 L523.8,848.0 L525.0,847.1 L526.1,846.2 L527.3,845.3 L528.4,844.5 L529.6,843.9 L530.7,843.3 L531.9,842.8 L533.1,842.3 L534.2,841.8 L535.4,841.3 L536.5,840.8 L537.7,840.2 L538.8,839.6 L540.0,839.1 L541.1,838.7 L542.3,838.2 L543.5,837.8 L544.6,837.4 L545.8,837.0 L546.9,836.7 L548.1,836.3 L549.2,836.0 L550.4,835.7 L551.5,835.4 L552.7,835.2 L553.9,834.9 L555.0,834.6 L556.2,834.3 L557.3,834.1 L558.5,833.8 L559.6,833.5 L560.8,833.2 L561.9,832.9 L563.1,832.7 L564.3,832.4 L565.4,832.2 L566.6,831.9 L567.7,831.7 L568.9,831.5 L570.0,831.2 L571.2,831.0 L572.3,830.8 L573.5,830.6 L574.7,830.4 L575.8,830.2 L577.0,830.0 L578.1,829.8 L579.3,829.6 L580.4,829.3 L581.6,829.1 L582.8,828.8 L583.9,828.5 L585.1,828.2 L586.2,828.0 L587.4,827.8 L588.5,827.5 L589.7,827.3 L590.8,827.1 L592.0,826.9 L593.2,826.7 L594.3,826.5 L595.5,826.3 L596.6,826.1 L597.8,825.9 L598.9,825.7 L600.1,825.5 L601.2,825.2 L602.4,825.0 L603.6,824.8 L604.7,824.6 L605.9,824.4 L607.0,824.2 L608.2,823.9 L609.3,823.7 L610.5,823.5 L611.6,823.3 L612.8,823.0 L614.0,822.8 L615.1,822.6 L616.3,822.4 L617.4,822.1 L618.6,821.9 L619.7,821.7 L620.9,821.5 L622.0,821.2 L623.2,821.0 L624.4,820.8 L625.5,820.5 L626.7,820.3 L627.8,820.1 L629.0,819.8 L630.1,819.6 L631.3,819.4 L632.5,819.1 L633.6,818.9 L634.8,818.7 L635.9,818.4 L637.1,818.2 L638.2,817.9 L639.4,817.7 L640.5,817.5 L641.7,817.2 L642.9,817.0 L644.0,816.7 L645.2,816.4 L646.3,816.2 L647.5,815.9 L648.6,815.6 L649.8,815.4 L650.9,815.1 L652.1,814.8" fill="none" stroke="#0000ff" stroke-width="3.8" stroke-linecap="round" stroke-linejoin="round"/><path d="M352.7,946.1L354.8,949.9L350.6,949.9Z" fill="#0000ff"/><path d="M652.1,812.7L654.2,816.5L650.0,816.5Z" fill="#0000ff"/>
<path d="M352.7,948.2 L353.9,948.2 L355.1,948.2 L356.2,948.2 L357.4,948.2 L358.5,948.2 L359.7,948.2 L360.8,948.2 L362.0,948.2 L363.1,948.2 L364.3,948.2 L365.5,948.2 L366.6,948.2 L367.8,948.2 L368.9,948.2 L370.1,948.2 L371.2,948.2 L372.4,948.2 L373.5,948.2 L374.7,948.2 L375.9,948.1 L377.0,948.0 L378.2,947.8 L379.3,947.5 L380.5,947.3 L381.6,947.0 L382.8,946.7 L384.0,946.5 L385.1,946.3 L386.3,946.1 L387.4,945.9 L388.6,945.7 L389.7,945.6 L390.9,945.4 L392.0,945.2 L393.2,945.0 L394.4,944.8 L395.5,944.6 L396.7,944.4 L397.8,944.1 L399.0,943.9 L400.1,943.6 L401.3,943.3 L402.4,942.9 L403.6,942.6 L404.8,942.3 L405.9,942.0 L407.1,941.7 L408.2,941.5 L409.4,941.2 L410.5,941.0 L411.7,940.8 L412.8,940.5 L414.0,940.3 L415.2,940.0 L416.3,939.6 L417.5,939.3 L418.6,938.9 L419.8,938.5 L420.9,938.0 L422.1,937.6 L423.2,937.1 L424.4,936.7 L425.6,936.2 L426.7,935.8 L427.9,935.3 L429.0,934.8 L430.2,934.4 L431.3,933.9 L432.5,933.4 L433.7,932.8 L434.8,932.3 L436.0,931.8 L437.1,931.2 L438.3,930.6 L439.4,930.0 L440.6,929.3 L441.7,928.7 L442.9,928.1 L444.1,927.4 L445.2,926.8 L446.4,926.1 L447.5,925.4 L448.7,924.7 L449.8,923.9 L451.0,923.0 L452.1,922.1 L453.3,921.1 L454.5,920.2 L455.6,919.2 L456.8,918.2 L457.9,917.2 L459.1,916.2 L460.2,915.3 L461.4,914.4 L462.5,913.4 L463.7,912.5 L464.9,911.6 L466.0,910.7 L467.2,909.8 L468.3,908.9 L469.5,908.0 L470.6,907.0 L471.8,906.1 L472.9,905.2 L474.1,904.3 L475.3,903.3 L476.4,902.4 L477.6,901.5 L478.7,900.5 L479.9,899.6 L481.0,898.6 L482.2,897.7 L483.4,896.7 L484.5,895.7 L485.7,894.7 L486.8,893.6 L488.0,892.6 L489.1,891.5 L490.3,890.5 L491.4,889.5 L492.6,888.4 L493.8,887.3 L494.9,886.1 L496.1,884.8 L497.2,883.4 L498.4,881.9 L499.5,880.4 L500.7,878.8 L501.8,877.2 L503.0,875.5 L504.2,873.8 L505.3,872.1 L506.5,870.5 L507.6,869.1 L508.8,867.8 L509.9,866.5 L511.1,865.4 L512.2,864.4 L513.4,863.5 L514.6,862.8 L515.7,862.0 L516.9,861.4 L518.0,860.7 L519.2,860.1 L520.3,859.6 L521.5,859.0 L522.6,858.5 L523.8,858.0 L525.0,857.6 L526.1,857.1 L527.3,856.7 L528.4,856.3 L529.6,855.9 L530.7,855.5 L531.9,855.1 L533.1,854.8 L534.2,854.4 L535.4,854.1 L536.5,853.7 L537.7,853.4 L538.8,853.1 L540.0,852.8 L541.1,852.5 L542.3,852.2 L543.5,851.9 L544.6,851.6 L545.8,851.4 L546.9,851.1 L548.1,850.8 L549.2,850.6 L550.4,850.4 L551.5,850.1 L552.7,849.9 L553.9,849.7 L555.0,849.5 L556.2,849.3 L557.3,849.0 L558.5,848.8 L559.6,848.6 L560.8,848.4 L561.9,848.1 L563.1,847.9 L564.3,847.7 L565.4,847.4 L566.6,847.2 L567.7,847.0 L568.9,846.8 L570.0,846.7 L571.2,846.5 L572.3,846.4 L573.5,846.2 L574.7,846.1 L575.8,846.0 L577.0,845.8 L578.1,845.7 L579.3,845.6 L580.4,845.4 L581.6,845.2 L582.8,845.0 L583.9,844.8 L585.1,844.6 L586.2,844.4 L587.4,844.2 L588.5,843.9 L589.7,843.7 L590.8,843.4 L592.0,843.2 L593.2,842.9 L594.3,842.7 L595.5,842.4 L596.6,842.2 L597.8,841.9 L598.9,841.7 L600.1,841.4 L601.2,841.2 L602.4,841.0 L603.6,840.7 L604.7,840.5 L605.9,840.3 L607.0,840.0 L608.2,839.8 L609.3,839.6 L610.5,839.4 L611.6,839.1 L612.8,838.9 L614.0,838.7 L615.1,838.4 L616.3,838.2 L617.4,838.0 L618.6,837.8 L619.7,837.5 L620.9,837.3 L622.0,837.1 L623.2,836.8 L624.4,836.6 L625.5,836.4 L626.7,836.1 L627.8,835.9 L629.0,835.7 L630.1,835.5 L631.3,835.2 L632.5,835.0 L633.6,834.8 L634.8,834.6 L635.9,834.3 L637.1,834.1 L638.2,833.8 L639.4,833.6 L640.5,833.3 L641.7,833.0 L642.9,832.8 L644.0,832.5 L645.2,832.1 L646.3,831.8 L647.5,831.5 L648.6,831.1 L649.8,830.8 L650.9,830.4 L652.1,830.0" fill="none" stroke="#ff00ff" stroke-width="3.8" stroke-linecap="round" stroke-linejoin="round"/><path d="M352.7,950.3L354.8,946.5L350.6,946.5Z" fill="#ff00ff"/><path d="M652.1,832.1L654.2,828.3L650.0,828.3Z" fill="#ff00ff"/>
<path d="M352.7,948.2 L353.9,948.2 L355.1,948.2 L356.2,948.2 L357.4,948.2 L358.5,948.2 L359.7,948.2 L360.8,948.2 L362.0,948.2 L363.1,948.2 L364.3,948.2 L365.5,948.2 L366.6,948.2 L367.8,948.2 L368.9,948.2 L370.1,948.2 L371.2,948.2 L372.4,948.2 L373.5,948.2 L374.7,948.1 L375.9,948.1 L377.0,947.9 L378.2,947.8 L379.3,947.7 L380.5,947.5 L381.6,947.4 L382.8,947.3 L384.0,947.2 L385.1,947.1 L386.3,947.0 L387.4,947.0 L388.6,946.9 L389.7,946.9 L390.9,946.8 L392.0,946.8 L393.2,946.7 L394.4,946.6 L395.5,946.6 L396.7,946.5 L397.8,946.4 L399.0,946.4 L400.1,946.3 L401.3,946.2 L402.4,946.1 L403.6,946.0 L404.8,945.9 L405.9,945.8 L407.1,945.7 L408.2,945.6 L409.4,945.4 L410.5,945.3 L411.7,945.2 L412.8,945.0 L414.0,944.8 L415.2,944.5 L416.3,943.8 L417.5,942.7 L418.6,941.3 L419.8,939.4 L420.9,937.0 L422.1,934.7 L423.2,932.3 L424.4,929.9 L425.6,927.3 L426.7,924.8 L427.9,922.4 L429.0,920.2 L430.2,918.1 L431.3,916.2 L432.5,914.4 L433.7,912.7 L434.8,911.2 L436.0,909.7 L437.1,908.2 L438.3,906.8 L439.4,905.4 L440.6,904.0 L441.7,902.6 L442.9,901.3 L444.1,900.0 L445.2,898.7 L446.4,897.4 L447.5,896.3 L448.7,895.1 L449.8,894.0 L451.0,893.0 L452.1,892.0 L453.3,891.0 L454.5,890.1 L455.6,889.1 L456.8,888.2 L457.9,887.3 L459.1,886.4 L460.2,885.5 L461.4,884.6 L462.5,883.7 L463.7,882.8 L464.9,881.9 L466.0,881.0 L467.2,880.1 L468.3,879.3 L469.5,878.4 L470.6,877.6 L471.8,876.7 L472.9,875.9 L474.1,875.0 L475.3,874.2 L476.4,873.4 L477.6,872.5 L478.7,871.7 L479.9,870.9 L481.0,870.1 L482.2,869.4 L483.4,868.7 L484.5,868.0 L485.7,867.4 L486.8,866.8 L488.0,866.1 L489.1,865.5 L490.3,864.8 L491.4,864.1 L492.6,863.4 L493.8,862.7 L494.9,862.0 L496.1,861.3 L497.2,860.5 L498.4,859.7 L499.5,858.9 L500.7,858.1 L501.8,857.3 L503.0,856.4 L504.2,855.6 L505.3,854.7 L506.5,853.8 L507.6,852.9 L508.8,852.1 L509.9,851.2 L511.1,850.5 L512.2,849.7 L513.4,849.1 L514.6,848.4 L515.7,847.8 L516.9,847.2 L518.0,846.6 L519.2,846.0 L520.3,845.5 L521.5,844.9 L522.6,844.4 L523.8,844.0 L525.0,843.5 L526.1,843.0 L527.3,842.6 L528.4,842.2 L529.6,841.7 L530.7,841.3 L531.9,841.0 L533.1,840.6 L534.2,840.2 L535.4,839.9 L536.5,839.5 L537.7,839.2 L538.8,838.9 L540.0,838.6 L541.1,838.3 L542.3,838.0 L543.5,837.8 L544.6,837.5 L545.8,837.3 L546.9,837.0 L548.1,836.8 L549.2,836.6 L550.4,836.4 L551.5,836.2 L552.7,836.0 L553.9,835.8 L555.0,835.6 L556.2,835.4 L557.3,835.3 L558.5,835.1 L559.6,834.9 L560.8,834.7 L561.9,834.5 L563.1,834.3 L564.3,834.1 L565.4,833.9 L566.6,833.7 L567.7,833.5 L568.9,833.3 L570.0,833.1 L571.2,833.0 L572.3,832.8 L573.5,832.7 L574.7,832.6 L575.8,832.4 L577.0,832.3 L578.1,832.1 L579.3,832.0 L580.4,831.8 L581.6,831.7 L582.8,831.5 L583.9,831.3 L585.1,831.1 L586.2,831.0 L587.4,830.8 L588.5,830.6 L589.7,830.4 L590.8,830.2 L592.0,830.0 L593.2,829.8 L594.3,829.7 L595.5,829.5 L596.6,829.3 L597.8,829.1 L598.9,828.9 L600.1,828.7 L601.2,828.6 L602.4,828.4 L603.6,828.3 L604.7,828.1 L605.9,827.9 L607.0,827.8 L608.2,827.6 L609.3,827.5 L610.5,827.3 L611.6,827.2 L612.8,827.0 L614.0,826.9 L615.1,826.7 L616.3,826.6 L617.4,826.4 L618.6,826.3 L619.7,826.2 L620.9,826.0 L622.0,825.9 L623.2,825.7 L624.4,825.6 L625.5,825.5 L626.7,825.4 L627.8,825.3 L629.0,825.1 L630.1,825.0 L631.3,824.9 L632.5,824.8 L633.6,824.7 L634.8,824.6 L635.9,824.5 L637.1,824.4 L638.2,824.3 L639.4,824.2 L640.5,824.0 L641.7,823.9 L642.9,823.8 L644.0,823.7 L645.2,823.6 L646.3,823.5 L647.5,823.3 L648.6,823.2 L649.8,823.1 L650.9,823.0 L652.1,822.8" fill="none" stroke="#008000" stroke-width="3.9" stroke-linecap="round" stroke-linejoin="round"/><path d="M352.7,945.8L355.1,948.2L352.7,950.6L350.3,948.2Z" fill="#008000"/><path d="M652.1,820.4L654.5,822.8L652.1,825.2L649.7,822.8Z" fill="#008000"/>
<path d="M352.7,948.2 L353.9,948.2 L355.1,948.2 L356.2,948.2 L357.4,948.2 L358.5,948.2 L359.7,948.2 L360.8,948.2 L362.0,948.2 L363.1,948.2 L364.3,948.2 L365.5,948.2 L366.6,948.2 L367.8,948.2 L368.9,948.2 L370.1,948.2 L371.2,948.2 L372.4,948.2 L373.5,948.2 L374.7,948.2 L375.9,947.9 L377.0,947.2 L378.2,946.5 L379.3,945.9 L380.5,945.2 L381.6,944.6 L382.8,943.9 L384.0,943.4 L385.1,943.0 L386.3,942.7 L387.4,942.5 L388.6,942.3 L389.7,942.1 L390.9,941.9 L392.0,941.7 L393.2,941.5 L394.4,941.3 L395.5,941.0 L396.7,940.7 L397.8,940.4 L399.0,940.1 L400.1,939.7 L401.3,939.3 L402.4,938.8 L403.6,938.4 L404.8,937.9 L405.9,937.5 L407.1,937.0 L408.2,936.5 L409.4,936.1 L410.5,935.6 L411.7,935.0 L412.8,934.2 L414.0,933.0 L415.2,931.3 L416.3,929.5 L417.5,927.6 L418.6,925.3 L419.8,921.5 L420.9,918.5 L422.1,916.9 L423.2,915.4 L424.4,913.5 L425.6,911.5 L426.7,909.8 L427.9,908.3 L429.0,906.9 L430.2,905.5 L431.3,904.2 L432.5,902.9 L433.7,901.7 L434.8,900.5 L436.0,899.4 L437.1,898.4 L438.3,897.4 L439.4,896.4 L440.6,895.5 L441.7,894.6 L442.9,893.7 L444.1,892.9 L445.2,892.0 L446.4,891.2 L447.5,890.4 L448.7,889.5 L449.8,888.7 L451.0,887.9 L452.1,887.0 L453.3,886.2 L454.5,885.4 L455.6,884.6 L456.8,883.7 L457.9,883.0 L459.1,882.2 L460.2,881.4 L461.4,880.6 L462.5,879.9 L463.7,879.1 L464.9,878.4 L466.0,877.7 L467.2,877.0 L468.3,876.2 L469.5,875.5 L470.6,874.8 L471.8,874.1 L472.9,873.4 L474.1,872.7 L475.3,872.0 L476.4,871.3 L477.6,870.6 L478.7,869.9 L479.9,869.2 L481.0,868.5 L482.2,867.7 L483.4,867.0 L484.5,866.3 L485.7,865.6 L486.8,864.9 L488.0,864.1 L489.1,863.4 L490.3,862.8 L491.4,862.2 L492.6,861.6 L493.8,861.0 L494.9,860.3 L496.1,859.7 L497.2,859.0 L498.4,858.2 L499.5,857.5 L500.7,856.8 L501.8,856.1 L503.0,855.4 L504.2,854.7 L505.3,854.0 L506.5,853.4 L507.6,852.7 L508.8,852.1 L509.9,851.5 L511.1,850.9 L512.2,850.3 L513.4,849.8 L514.6,849.3 L515.7,848.7 L516.9,848.3 L518.0,847.8 L519.2,847.3 L520.3,846.9 L521.5,846.5 L522.6,846.1 L523.8,845.7 L525.0,845.3 L526.1,845.0 L527.3,844.7 L528.4,844.4 L529.6,844.1 L530.7,843.8 L531.9,843.6 L533.1,843.3 L534.2,843.0 L535.4,842.8 L536.5,842.5 L537.7,842.2 L538.8,842.0 L540.0,841.8 L541.1,841.5 L542.3,841.3 L543.5,841.1 L544.6,840.8 L545.8,840.6 L546.9,840.4 L548.1,840.2 L549.2,840.1 L550.4,839.9 L551.5,839.7 L552.7,839.6 L553.9,839.4 L555.0,839.3 L556.2,839.1 L557.3,838.9 L558.5,838.8 L559.6,838.6 L560.8,838.4 L561.9,838.3 L563.1,838.1 L564.3,838.0 L565.4,837.8 L566.6,837.6 L567.7,837.5 L568.9,837.4 L570.0,837.2 L571.2,837.1 L572.3,837.0 L573.5,836.9 L574.7,836.7 L575.8,836.6 L577.0,836.5 L578.1,836.4 L579.3,836.3 L580.4,836.2 L581.6,836.0 L582.8,835.9 L583.9,835.8 L585.1,835.6 L586.2,835.5 L587.4,835.4 L588.5,835.2 L589.7,835.1 L590.8,835.0 L592.0,834.8 L593.2,834.7 L594.3,834.5 L595.5,834.4 L596.6,834.3 L597.8,834.1 L598.9,834.0 L600.1,833.8 L601.2,833.7 L602.4,833.5 L603.6,833.4 L604.7,833.3 L605.9,833.1 L607.0,833.0 L608.2,832.8 L609.3,832.7 L610.5,832.5 L611.6,832.4 L612.8,832.3 L614.0,832.1 L615.1,832.0 L616.3,831.8 L617.4,831.7 L618.6,831.5 L619.7,831.4 L620.9,831.2 L622.0,831.1 L623.2,830.9 L624.4,830.8 L625.5,830.6 L626.7,830.5 L627.8,830.3 L629.0,830.2 L630.1,830.0 L631.3,829.9 L632.5,829.7 L633.6,829.6 L634.8,829.4 L635.9,829.3 L637.1,829.1 L638.2,829.0 L639.4,828.8 L640.5,828.6 L641.7,828.5 L642.9,828.3 L644.0,828.1 L645.2,827.9 L646.3,827.7 L647.5,827.6 L648.6,827.4 L649.8,827.2 L650.9,827.0 L652.1,826.7" fill="none" stroke="#000080" stroke-width="4.0" stroke-linecap="round" stroke-linejoin="round"/><path d="M350.5,948.2L354.4,946.0L354.4,950.4Z" fill="#000080"/><path d="M649.9,826.7L653.8,824.5L653.8,828.9Z" fill="#000080"/>
<text x="348.7" y="988.6" font-size="13.9" text-anchor="middle" >200</text>
<text x="399.3" y="988.6" font-size="13.9" text-anchor="middle" >400</text>
<text x="449.8" y="988.6" font-size="13.9" text-anchor="middle" >600</text>
<text x="500.4" y="988.6" font-size="13.9" text-anchor="middle" >800</text>
<text x="551.0" y="988.6" font-size="13.9" text-anchor="middle" >1000</text>
<text x="601.5" y="988.6" font-size="13.9" text-anchor="middle" >1200</text>
<text x="652.1" y="988.6" font-size="13.9" text-anchor="middle" >1400</text>
<text x="339.7" y="953.0" font-size="13.9" text-anchor="end" >0</text>
<text x="339.7" y="911.9" font-size="13.9" text-anchor="end" >20</text>
<text x="339.7" y="870.8" font-size="13.9" text-anchor="end" >40</text>
<text x="339.7" y="829.7" font-size="13.9" text-anchor="end" >60</text>
<text x="339.7" y="788.6" font-size="13.9" text-anchor="end" >80</text>
<text x="339.7" y="747.5" font-size="13.9" text-anchor="end" >100</text>
<text x="510.8" y="1010.8" font-size="13.8" text-anchor="middle" >wavelength (nm)</text>
<text transform="translate(310.2,845.5) rotate(-90)" font-size="13.7" text-anchor="middle">transmittance (%)</text>
<rect x="426.3" y="746.9" width="90.5" height="82.7" fill="#fff" stroke="#6a6a6a" stroke-width="0.8"/>
<rect x="439.93" y="752.83" width="2.94" height="2.94" fill="#000"/>
<text x="454.3" y="758.0" font-size="11.1" text-anchor="start" >baseline</text>
<circle cx="441.4" cy="768.2" r="1.68" fill="#ff0000"/>
<text x="454.3" y="771.9" font-size="11.1" text-anchor="start" >S0_Ann. TR</text>
<path d="M441.4,779.8L443.2,783.1L439.6,783.1Z" fill="#0000ff"/>
<text x="454.3" y="785.5" font-size="11.1" text-anchor="start" >S2_Ann. TR</text>
<path d="M441.4,797.3L443.2,794.0L439.6,794.0Z" fill="#ff00ff"/>
<text x="454.3" y="799.3" font-size="11.1" text-anchor="start" >S4_Ann. TR</text>
<path d="M441.4,807.7L443.5,809.8L441.4,811.9L439.3,809.8Z" fill="#008000"/>
<text x="454.3" y="813.2" font-size="11.1" text-anchor="start" >S6_Ann. TR</text>
<path d="M439.6,823.1L442.9,821.3L442.9,824.9Z" fill="#000080"/>
<text x="454.3" y="826.9" font-size="11.1" text-anchor="start" >S8_Ann. TR</text>
</svg>
</body></html>
